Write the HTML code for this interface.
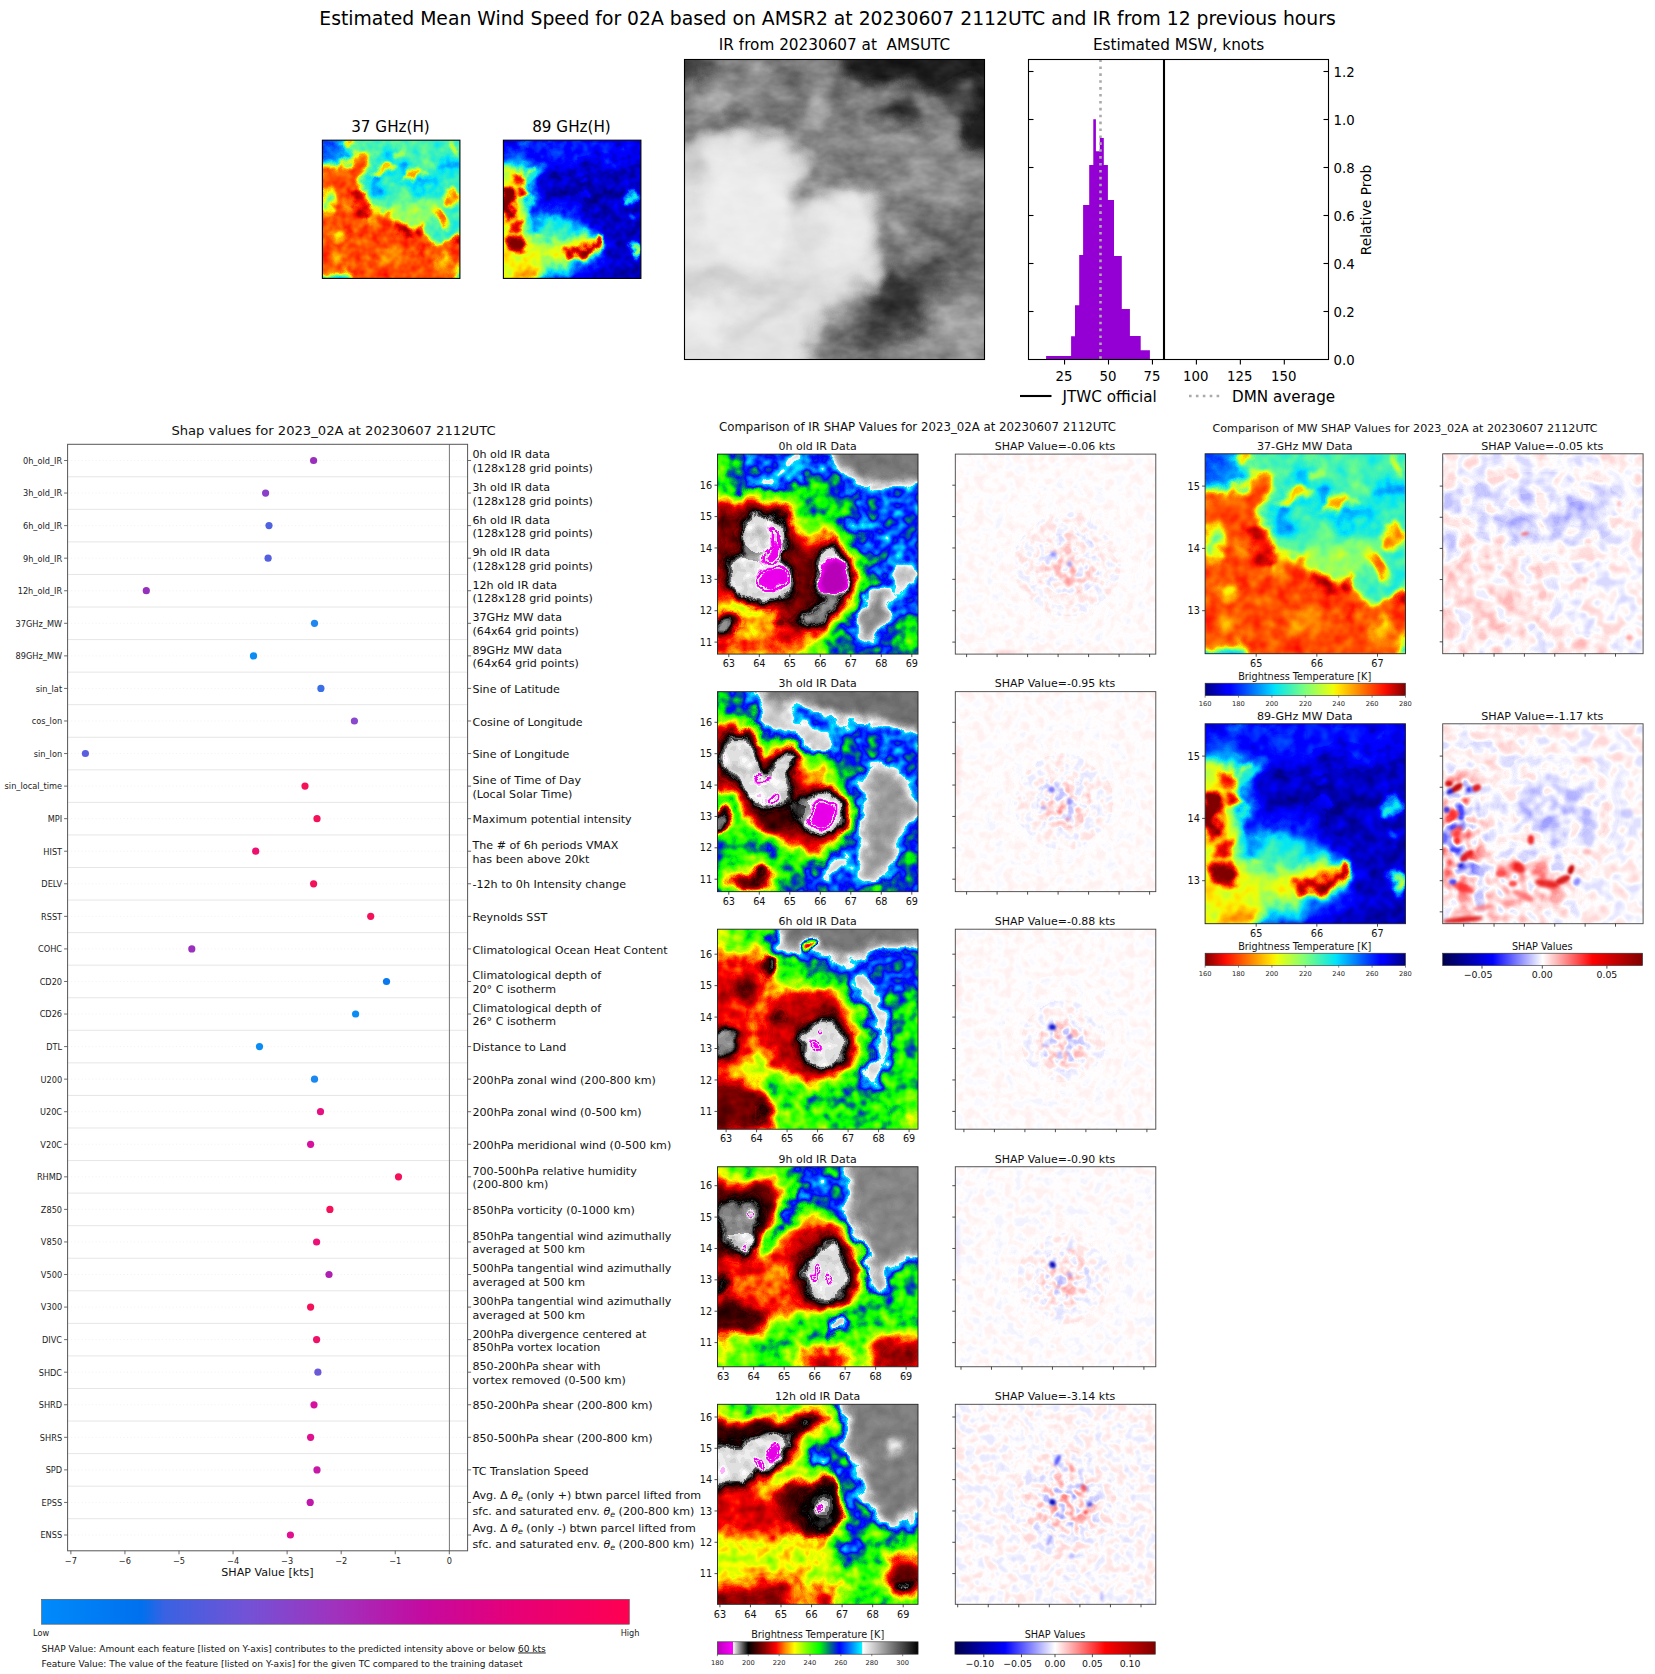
<!DOCTYPE html>
<html><head><meta charset="utf-8"><title>Estimated Mean Wind Speed for 02A</title>
<style>html,body{margin:0;padding:0;background:#fff}svg{display:block}text{font-family:"DejaVu Sans","Liberation Sans",sans-serif}</style></head>
<body><svg width="1655" height="1674" viewBox="0 0 1655 1674">
<defs>
<linearGradient id="gIR" x1="0" y1="0" x2="1" y2="0"><stop offset="0.0000" stop-color="rgb(185,0,185)"/><stop offset="0.0762" stop-color="rgb(255,0,255)"/><stop offset="0.0769" stop-color="rgb(255,255,255)"/><stop offset="0.1538" stop-color="rgb(0,0,0)"/><stop offset="0.2308" stop-color="rgb(130,0,0)"/><stop offset="0.2923" stop-color="rgb(255,0,0)"/><stop offset="0.3385" stop-color="rgb(255,140,0)"/><stop offset="0.3846" stop-color="rgb(255,255,0)"/><stop offset="0.4462" stop-color="rgb(120,255,0)"/><stop offset="0.5077" stop-color="rgb(0,255,0)"/><stop offset="0.5615" stop-color="rgb(0,110,130)"/><stop offset="0.6077" stop-color="rgb(0,0,255)"/><stop offset="0.6615" stop-color="rgb(0,120,255)"/><stop offset="0.7223" stop-color="rgb(0,255,255)"/><stop offset="0.7231" stop-color="rgb(255,255,255)"/><stop offset="1.0000" stop-color="rgb(0,0,0)"/></linearGradient>
<linearGradient id="gJET" x1="0" y1="0" x2="1" y2="0"><stop offset="0.0000" stop-color="rgb(0,0,128)"/><stop offset="0.1100" stop-color="rgb(0,0,255)"/><stop offset="0.1250" stop-color="rgb(0,0,255)"/><stop offset="0.3400" stop-color="rgb(0,219,255)"/><stop offset="0.3500" stop-color="rgb(0,229,246)"/><stop offset="0.5000" stop-color="rgb(125,255,122)"/><stop offset="0.6400" stop-color="rgb(238,255,8)"/><stop offset="0.6600" stop-color="rgb(255,236,0)"/><stop offset="0.8900" stop-color="rgb(255,18,0)"/><stop offset="0.9100" stop-color="rgb(241,8,0)"/><stop offset="1.0000" stop-color="rgb(128,0,0)"/></linearGradient>
<linearGradient id="gJETR" x1="0" y1="0" x2="1" y2="0"><stop offset="0.0000" stop-color="rgb(128,0,0)"/><stop offset="0.0900" stop-color="rgb(241,8,0)"/><stop offset="0.1100" stop-color="rgb(255,18,0)"/><stop offset="0.3400" stop-color="rgb(255,236,0)"/><stop offset="0.3600" stop-color="rgb(238,255,8)"/><stop offset="0.5000" stop-color="rgb(125,255,122)"/><stop offset="0.6500" stop-color="rgb(0,229,246)"/><stop offset="0.6600" stop-color="rgb(0,219,255)"/><stop offset="0.8750" stop-color="rgb(0,0,255)"/><stop offset="0.8900" stop-color="rgb(0,0,255)"/><stop offset="1.0000" stop-color="rgb(0,0,128)"/></linearGradient>
<linearGradient id="gSEIS" x1="0" y1="0" x2="1" y2="0"><stop offset="0.0000" stop-color="rgb(0,0,76)"/><stop offset="0.2500" stop-color="rgb(0,0,255)"/><stop offset="0.5000" stop-color="rgb(255,255,255)"/><stop offset="0.7500" stop-color="rgb(255,0,0)"/><stop offset="1.0000" stop-color="rgb(128,0,0)"/></linearGradient>
<linearGradient id="gSHAP" x1="0" y1="0" x2="1" y2="0"><stop offset="0.0000" stop-color="rgb(0,139,251)"/><stop offset="0.1700" stop-color="rgb(0,112,238)"/><stop offset="0.2100" stop-color="rgb(58,98,226)"/><stop offset="0.3500" stop-color="rgb(115,82,214)"/><stop offset="0.5000" stop-color="rgb(160,50,190)"/><stop offset="0.6500" stop-color="rgb(196,10,160)"/><stop offset="0.8000" stop-color="rgb(230,0,120)"/><stop offset="1.0000" stop-color="rgb(255,0,81)"/></linearGradient>
<filter id="fGR" filterUnits="userSpaceOnUse" x="-15" y="-15" width="130" height="130" color-interpolation-filters="sRGB">
<feTurbulence type="fractalNoise" baseFrequency="0.06" numOctaves="3" seed="4" result="t"/>
<feDisplacementMap in="SourceGraphic" in2="t" scale="12" xChannelSelector="R" yChannelSelector="G" result="d"/>
<feTurbulence type="fractalNoise" baseFrequency="0.12 0.2" numOctaves="3" seed="9" result="t2"/>
<feColorMatrix in="t2" type="matrix" values="0 0 1 0 0 0 0 1 0 0 0 0 1 0 0 0 0 0 0 1" result="n"/>
<feComponentTransfer in="d" result="e"><feFuncR type="table" tableValues="0.1 0.22 0.3 0.28 0.08 0.02"/><feFuncG type="table" tableValues="0.1 0.22 0.3 0.28 0.08 0.02"/><feFuncB type="table" tableValues="0.1 0.22 0.3 0.28 0.08 0.02"/></feComponentTransfer>
<feComposite in="e" in2="n" operator="arithmetic" k1="1" k2="0" k3="0" k4="0" result="p"/>
<feComposite in="d" in2="e" operator="arithmetic" k1="0" k2="1" k3="-0.5" k4="0" result="q"/>
<feComposite in="q" in2="p" operator="arithmetic" k1="0" k2="1" k3="1" k4="0" result="c"/>
<feComponentTransfer in="c"><feFuncA type="linear" slope="0" intercept="1"/></feComponentTransfer>
</filter>
<filter id="pb0.5" filterUnits="userSpaceOnUse" x="-40" y="-40" width="180" height="180"><feGaussianBlur stdDeviation="0.5"/></filter>
<filter id="pb0.6" filterUnits="userSpaceOnUse" x="-40" y="-40" width="180" height="180"><feGaussianBlur stdDeviation="0.6"/></filter>
<filter id="pb0.7" filterUnits="userSpaceOnUse" x="-40" y="-40" width="180" height="180"><feGaussianBlur stdDeviation="0.7"/></filter>
<filter id="pb0.8" filterUnits="userSpaceOnUse" x="-40" y="-40" width="180" height="180"><feGaussianBlur stdDeviation="0.8"/></filter>
<filter id="pb1" filterUnits="userSpaceOnUse" x="-40" y="-40" width="180" height="180"><feGaussianBlur stdDeviation="1"/></filter>
<filter id="pb1.5" filterUnits="userSpaceOnUse" x="-40" y="-40" width="180" height="180"><feGaussianBlur stdDeviation="1.5"/></filter>
<filter id="pb2" filterUnits="userSpaceOnUse" x="-40" y="-40" width="180" height="180"><feGaussianBlur stdDeviation="2"/></filter>
<filter id="pb2.5" filterUnits="userSpaceOnUse" x="-40" y="-40" width="180" height="180"><feGaussianBlur stdDeviation="2.5"/></filter>
<filter id="pb3" filterUnits="userSpaceOnUse" x="-40" y="-40" width="180" height="180"><feGaussianBlur stdDeviation="3"/></filter>
<filter id="pb3.5" filterUnits="userSpaceOnUse" x="-40" y="-40" width="180" height="180"><feGaussianBlur stdDeviation="3.5"/></filter>
<filter id="pb4" filterUnits="userSpaceOnUse" x="-40" y="-40" width="180" height="180"><feGaussianBlur stdDeviation="4"/></filter>
<filter id="pb6" filterUnits="userSpaceOnUse" x="-40" y="-40" width="180" height="180"><feGaussianBlur stdDeviation="6"/></filter>
<filter id="pb7" filterUnits="userSpaceOnUse" x="-40" y="-40" width="180" height="180"><feGaussianBlur stdDeviation="7"/></filter>
<filter id="pb8" filterUnits="userSpaceOnUse" x="-40" y="-40" width="180" height="180"><feGaussianBlur stdDeviation="8"/></filter>
<filter id="pb9" filterUnits="userSpaceOnUse" x="-40" y="-40" width="180" height="180"><feGaussianBlur stdDeviation="9"/></filter>
<filter id="fIR" filterUnits="userSpaceOnUse" x="-15" y="-15" width="130" height="130" color-interpolation-filters="sRGB">
<feTurbulence type="fractalNoise" baseFrequency="0.07" numOctaves="3" seed="3" result="t"/>
<feDisplacementMap in="SourceGraphic" in2="t" scale="10" xChannelSelector="R" yChannelSelector="G" result="d"/>
<feTurbulence type="fractalNoise" baseFrequency="0.16" numOctaves="2" seed="8" result="t2"/>
<feColorMatrix in="t2" type="matrix" values="0 0 1 0 0 0 0 1 0 0 0 0 1 0 0 0 0 0 0 1" result="n"/>
<feComponentTransfer in="d" result="e"><feFuncR type="table" tableValues="0 0.03 0.05 0.09 0.13 0.17 0.24 0.3 0.3 0.26 0.07 0.04 0.04 0.04"/><feFuncG type="table" tableValues="0 0.03 0.05 0.09 0.13 0.17 0.24 0.3 0.3 0.26 0.07 0.04 0.04 0.04"/><feFuncB type="table" tableValues="0 0.03 0.05 0.09 0.13 0.17 0.24 0.3 0.3 0.26 0.07 0.04 0.04 0.04"/></feComponentTransfer>
<feComposite in="e" in2="n" operator="arithmetic" k1="1" k2="0" k3="0" k4="0" result="p"/>
<feComposite in="d" in2="e" operator="arithmetic" k1="0" k2="1" k3="-0.5" k4="0" result="q"/>
<feComposite in="q" in2="p" operator="arithmetic" k1="0" k2="1" k3="1" k4="0" result="c"/>
<feComponentTransfer in="c"><feFuncR type="table" tableValues="0.725 0.753 0.781 0.809 0.836 0.864 0.892 0.92 0.947 0.975 1 0.9 0.8 0.7 0.6 0.5 0.4 0.3 0.2 0.1 0 0.051 0.102 0.153 0.204 0.255 0.306 0.357 0.408 0.459 0.51 0.571 0.632 0.694 0.755 0.816 0.877 0.939 1 1 1 1 1 1 1 1 1 1 1 1 1 0.934 0.868 0.801 0.735 0.669 0.603 0.537 0.471 0.412 0.353 0.294 0.235 0.176 0.118 0.059 0 0 0 0 0 0 0 0 0 0 0 0 0 0 0 0 0 0 0 0 0 0 0 0 0 0 0 0 1 0.972 0.944 0.917 0.889 0.861 0.833 0.806 0.778 0.75 0.722 0.694 0.667 0.639 0.611 0.583 0.556 0.528 0.5 0.472 0.444 0.417 0.389 0.361 0.333 0.306 0.278 0.25 0.222 0.194 0.167 0.139 0.111 0.083 0.056 0.028 0"/><feFuncG type="table" tableValues="0 0 0 0 0 0 0 0 0 0 1 0.9 0.8 0.7 0.6 0.5 0.4 0.3 0.2 0.1 0 0 0 0 0 0 0 0 0 0 0 0 0 0 0 0 0 0 0 0.092 0.183 0.275 0.366 0.458 0.549 0.624 0.699 0.775 0.85 0.925 1 1 1 1 1 1 1 1 1 1 1 1 1 1 1 1 1 0.919 0.838 0.756 0.675 0.594 0.513 0.431 0.359 0.288 0.216 0.144 0.072 0 0.067 0.134 0.202 0.269 0.336 0.403 0.471 0.538 0.605 0.672 0.739 0.806 0.873 0.94 1 0.972 0.944 0.917 0.889 0.861 0.833 0.806 0.778 0.75 0.722 0.694 0.667 0.639 0.611 0.583 0.556 0.528 0.5 0.472 0.444 0.417 0.389 0.361 0.333 0.306 0.278 0.25 0.222 0.194 0.167 0.139 0.111 0.083 0.056 0.028 0"/><feFuncB type="table" tableValues="0.725 0.753 0.781 0.809 0.836 0.864 0.892 0.92 0.947 0.975 1 0.9 0.8 0.7 0.6 0.5 0.4 0.3 0.2 0.1 0 0 0 0 0 0 0 0 0 0 0 0 0 0 0 0 0 0 0 0 0 0 0 0 0 0 0 0 0 0 0 0 0 0 0 0 0 0 0 0 0 0 0 0 0 0 0 0.073 0.146 0.218 0.291 0.364 0.437 0.51 0.592 0.673 0.755 0.837 0.918 1 1 1 1 1 1 1 1 1 1 1 1 1 1 1 1 0.972 0.944 0.917 0.889 0.861 0.833 0.806 0.778 0.75 0.722 0.694 0.667 0.639 0.611 0.583 0.556 0.528 0.5 0.472 0.444 0.417 0.389 0.361 0.333 0.306 0.278 0.25 0.222 0.194 0.167 0.139 0.111 0.083 0.056 0.028 0"/><feFuncA type="linear" slope="0" intercept="1"/></feComponentTransfer>
</filter>
<filter id="fSH0" filterUnits="userSpaceOnUse" x="-10" y="-10" width="120" height="120" color-interpolation-filters="sRGB">
<feTurbulence type="fractalNoise" baseFrequency="0.2" numOctaves="2" seed="21" result="t"/>
<feColorMatrix in="t" type="matrix" values="2.2 0 0 0 -0.6 2.2 0 0 0 -0.6 2.2 0 0 0 -0.6 0 0 0 0 1" result="n"/>
<feColorMatrix in="SourceGraphic" type="matrix" values="1 0 0 0 0 1 0 0 0 0 1 0 0 0 0 0 0 0 0 1" result="a"/>
<feColorMatrix in="SourceGraphic" type="matrix" values="0 1 0 0 0 0 1 0 0 0 0 1 0 0 0 0 0 0 0 1" result="bb"/>
<feComposite in="a" in2="n" operator="arithmetic" k1="1" k2="0" k3="0" k4="0" result="p"/>
<feComposite in="bb" in2="a" operator="arithmetic" k1="0" k2="1" k3="-0.5" k4="0" result="q"/>
<feComposite in="q" in2="p" operator="arithmetic" k1="0" k2="1" k3="1" k4="0" result="c"/>
<feComponentTransfer in="c"><feFuncR type="table" tableValues="0 0 0 0 0 0 0 0 0 0.125 0.25 0.375 0.5 0.625 0.75 0.875 1 1 1 1 1 1 1 1 1 0.938 0.875 0.813 0.751 0.689 0.626 0.564 0.502"/><feFuncG type="table" tableValues="0 0 0 0 0 0 0 0 0 0.125 0.25 0.375 0.5 0.625 0.75 0.875 1 0.875 0.75 0.625 0.5 0.375 0.25 0.125 0 0 0 0 0 0 0 0 0"/><feFuncB type="table" tableValues="0.298 0.386 0.474 0.561 0.649 0.737 0.825 0.912 1 1 1 1 1 1 1 1 1 0.875 0.75 0.625 0.5 0.375 0.25 0.125 0 0 0 0 0 0 0 0 0"/><feFuncA type="linear" slope="0" intercept="1"/></feComponentTransfer>
</filter>
<filter id="fSH1" filterUnits="userSpaceOnUse" x="-10" y="-10" width="120" height="120" color-interpolation-filters="sRGB">
<feTurbulence type="fractalNoise" baseFrequency="0.2" numOctaves="2" seed="22" result="t"/>
<feColorMatrix in="t" type="matrix" values="2.2 0 0 0 -0.6 2.2 0 0 0 -0.6 2.2 0 0 0 -0.6 0 0 0 0 1" result="n"/>
<feColorMatrix in="SourceGraphic" type="matrix" values="1 0 0 0 0 1 0 0 0 0 1 0 0 0 0 0 0 0 0 1" result="a"/>
<feColorMatrix in="SourceGraphic" type="matrix" values="0 1 0 0 0 0 1 0 0 0 0 1 0 0 0 0 0 0 0 1" result="bb"/>
<feComposite in="a" in2="n" operator="arithmetic" k1="1" k2="0" k3="0" k4="0" result="p"/>
<feComposite in="bb" in2="a" operator="arithmetic" k1="0" k2="1" k3="-0.5" k4="0" result="q"/>
<feComposite in="q" in2="p" operator="arithmetic" k1="0" k2="1" k3="1" k4="0" result="c"/>
<feComponentTransfer in="c"><feFuncR type="table" tableValues="0 0 0 0 0 0 0 0 0 0.125 0.25 0.375 0.5 0.625 0.75 0.875 1 1 1 1 1 1 1 1 1 0.938 0.875 0.813 0.751 0.689 0.626 0.564 0.502"/><feFuncG type="table" tableValues="0 0 0 0 0 0 0 0 0 0.125 0.25 0.375 0.5 0.625 0.75 0.875 1 0.875 0.75 0.625 0.5 0.375 0.25 0.125 0 0 0 0 0 0 0 0 0"/><feFuncB type="table" tableValues="0.298 0.386 0.474 0.561 0.649 0.737 0.825 0.912 1 1 1 1 1 1 1 1 1 0.875 0.75 0.625 0.5 0.375 0.25 0.125 0 0 0 0 0 0 0 0 0"/><feFuncA type="linear" slope="0" intercept="1"/></feComponentTransfer>
</filter>
<filter id="fSH2" filterUnits="userSpaceOnUse" x="-10" y="-10" width="120" height="120" color-interpolation-filters="sRGB">
<feTurbulence type="fractalNoise" baseFrequency="0.2" numOctaves="2" seed="23" result="t"/>
<feColorMatrix in="t" type="matrix" values="2.2 0 0 0 -0.6 2.2 0 0 0 -0.6 2.2 0 0 0 -0.6 0 0 0 0 1" result="n"/>
<feColorMatrix in="SourceGraphic" type="matrix" values="1 0 0 0 0 1 0 0 0 0 1 0 0 0 0 0 0 0 0 1" result="a"/>
<feColorMatrix in="SourceGraphic" type="matrix" values="0 1 0 0 0 0 1 0 0 0 0 1 0 0 0 0 0 0 0 1" result="bb"/>
<feComposite in="a" in2="n" operator="arithmetic" k1="1" k2="0" k3="0" k4="0" result="p"/>
<feComposite in="bb" in2="a" operator="arithmetic" k1="0" k2="1" k3="-0.5" k4="0" result="q"/>
<feComposite in="q" in2="p" operator="arithmetic" k1="0" k2="1" k3="1" k4="0" result="c"/>
<feComponentTransfer in="c"><feFuncR type="table" tableValues="0 0 0 0 0 0 0 0 0 0.125 0.25 0.375 0.5 0.625 0.75 0.875 1 1 1 1 1 1 1 1 1 0.938 0.875 0.813 0.751 0.689 0.626 0.564 0.502"/><feFuncG type="table" tableValues="0 0 0 0 0 0 0 0 0 0.125 0.25 0.375 0.5 0.625 0.75 0.875 1 0.875 0.75 0.625 0.5 0.375 0.25 0.125 0 0 0 0 0 0 0 0 0"/><feFuncB type="table" tableValues="0.298 0.386 0.474 0.561 0.649 0.737 0.825 0.912 1 1 1 1 1 1 1 1 1 0.875 0.75 0.625 0.5 0.375 0.25 0.125 0 0 0 0 0 0 0 0 0"/><feFuncA type="linear" slope="0" intercept="1"/></feComponentTransfer>
</filter>
<filter id="fSH3" filterUnits="userSpaceOnUse" x="-10" y="-10" width="120" height="120" color-interpolation-filters="sRGB">
<feTurbulence type="fractalNoise" baseFrequency="0.2" numOctaves="2" seed="24" result="t"/>
<feColorMatrix in="t" type="matrix" values="2.2 0 0 0 -0.6 2.2 0 0 0 -0.6 2.2 0 0 0 -0.6 0 0 0 0 1" result="n"/>
<feColorMatrix in="SourceGraphic" type="matrix" values="1 0 0 0 0 1 0 0 0 0 1 0 0 0 0 0 0 0 0 1" result="a"/>
<feColorMatrix in="SourceGraphic" type="matrix" values="0 1 0 0 0 0 1 0 0 0 0 1 0 0 0 0 0 0 0 1" result="bb"/>
<feComposite in="a" in2="n" operator="arithmetic" k1="1" k2="0" k3="0" k4="0" result="p"/>
<feComposite in="bb" in2="a" operator="arithmetic" k1="0" k2="1" k3="-0.5" k4="0" result="q"/>
<feComposite in="q" in2="p" operator="arithmetic" k1="0" k2="1" k3="1" k4="0" result="c"/>
<feComponentTransfer in="c"><feFuncR type="table" tableValues="0 0 0 0 0 0 0 0 0 0.125 0.25 0.375 0.5 0.625 0.75 0.875 1 1 1 1 1 1 1 1 1 0.938 0.875 0.813 0.751 0.689 0.626 0.564 0.502"/><feFuncG type="table" tableValues="0 0 0 0 0 0 0 0 0 0.125 0.25 0.375 0.5 0.625 0.75 0.875 1 0.875 0.75 0.625 0.5 0.375 0.25 0.125 0 0 0 0 0 0 0 0 0"/><feFuncB type="table" tableValues="0.298 0.386 0.474 0.561 0.649 0.737 0.825 0.912 1 1 1 1 1 1 1 1 1 0.875 0.75 0.625 0.5 0.375 0.25 0.125 0 0 0 0 0 0 0 0 0"/><feFuncA type="linear" slope="0" intercept="1"/></feComponentTransfer>
</filter>
<filter id="fSH4" filterUnits="userSpaceOnUse" x="-10" y="-10" width="120" height="120" color-interpolation-filters="sRGB">
<feTurbulence type="fractalNoise" baseFrequency="0.2" numOctaves="2" seed="25" result="t"/>
<feColorMatrix in="t" type="matrix" values="2.2 0 0 0 -0.6 2.2 0 0 0 -0.6 2.2 0 0 0 -0.6 0 0 0 0 1" result="n"/>
<feColorMatrix in="SourceGraphic" type="matrix" values="1 0 0 0 0 1 0 0 0 0 1 0 0 0 0 0 0 0 0 1" result="a"/>
<feColorMatrix in="SourceGraphic" type="matrix" values="0 1 0 0 0 0 1 0 0 0 0 1 0 0 0 0 0 0 0 1" result="bb"/>
<feComposite in="a" in2="n" operator="arithmetic" k1="1" k2="0" k3="0" k4="0" result="p"/>
<feComposite in="bb" in2="a" operator="arithmetic" k1="0" k2="1" k3="-0.5" k4="0" result="q"/>
<feComposite in="q" in2="p" operator="arithmetic" k1="0" k2="1" k3="1" k4="0" result="c"/>
<feComponentTransfer in="c"><feFuncR type="table" tableValues="0 0 0 0 0 0 0 0 0 0.125 0.25 0.375 0.5 0.625 0.75 0.875 1 1 1 1 1 1 1 1 1 0.938 0.875 0.813 0.751 0.689 0.626 0.564 0.502"/><feFuncG type="table" tableValues="0 0 0 0 0 0 0 0 0 0.125 0.25 0.375 0.5 0.625 0.75 0.875 1 0.875 0.75 0.625 0.5 0.375 0.25 0.125 0 0 0 0 0 0 0 0 0"/><feFuncB type="table" tableValues="0.298 0.386 0.474 0.561 0.649 0.737 0.825 0.912 1 1 1 1 1 1 1 1 1 0.875 0.75 0.625 0.5 0.375 0.25 0.125 0 0 0 0 0 0 0 0 0"/><feFuncA type="linear" slope="0" intercept="1"/></feComponentTransfer>
</filter>
<filter id="fJET" filterUnits="userSpaceOnUse" x="-15" y="-15" width="130" height="130" color-interpolation-filters="sRGB">
<feTurbulence type="fractalNoise" baseFrequency="0.08" numOctaves="3" seed="5" result="t"/>
<feDisplacementMap in="SourceGraphic" in2="t" scale="12" xChannelSelector="R" yChannelSelector="G" result="d"/>
<feTurbulence type="fractalNoise" baseFrequency="0.14" numOctaves="2" seed="11" result="t2"/>
<feColorMatrix in="t2" type="matrix" values="0 0 1 0 0 0 0 1 0 0 0 0 1 0 0 0 0 0 0 1" result="n"/>
<feComposite in="d" in2="n" operator="arithmetic" k1="0" k2="1" k3="0.18" k4="-0.09" result="c"/>
<feComponentTransfer in="c"><feFuncR type="table" tableValues="0 0 0 0 0 0 0 0 0 0 0 0 0 0 0 0 0 0 0 0 0 0 0 0.049 0.101 0.153 0.205 0.257 0.309 0.361 0.412 0.464 0.515 0.566 0.616 0.666 0.716 0.767 0.817 0.867 0.917 0.969 1 1 1 1 1 1 1 1 1 1 1 1 1 1 1 0.959 0.893 0.815 0.736 0.658 0.58 0.502"/><feFuncG type="table" tableValues="0 0 0 0 0 0 0 0 0.008 0.071 0.135 0.198 0.262 0.325 0.388 0.452 0.515 0.579 0.642 0.705 0.769 0.832 0.895 0.908 0.919 0.93 0.941 0.951 0.962 0.973 0.984 0.995 1 1 1 1 1 1 1 1 1 0.96 0.901 0.842 0.783 0.724 0.665 0.606 0.547 0.488 0.429 0.37 0.311 0.252 0.193 0.134 0.075 0.042 0.028 0.022 0.017 0.011 0.006 0"/><feFuncB type="table" tableValues="0.502 0.574 0.646 0.718 0.789 0.861 0.933 1 1 1 1 1 1 1 1 1 1 1 1 1 1 1 0.968 0.916 0.864 0.813 0.761 0.71 0.659 0.607 0.556 0.504 0.453 0.402 0.352 0.301 0.25 0.2 0.149 0.098 0.048 0.014 0 0 0 0 0 0 0 0 0 0 0 0 0 0 0 0 0 0 0 0 0 0"/><feFuncA type="linear" slope="0" intercept="1"/></feComponentTransfer>
</filter>
<g id="mw37"><rect x="-30" y="-30" width="160" height="160" fill="rgb(105,105,105)"/><g filter="url(#pb6)"><ellipse cx="2" cy="4" rx="16" ry="14" fill="rgb(46,46,46)"/><ellipse cx="75" cy="10" rx="14" ry="6" fill="rgb(117,117,117)"/><ellipse cx="3" cy="96" rx="7" ry="6" fill="rgb(71,71,71)"/><ellipse cx="100" cy="99" rx="4" ry="4" fill="rgb(84,84,84)"/><ellipse cx="68" cy="53" rx="22" ry="7" transform="rotate(-5 68 53)" fill="rgb(153,153,153)"/><ellipse cx="62" cy="47" rx="10" ry="5" fill="rgb(133,133,133)"/><ellipse cx="50" cy="5" rx="8" ry="5" fill="rgb(128,128,128)"/></g><g filter="url(#pb3)"><path d="M36 38 L42 28 L47 16 L52 8" fill="none" stroke="rgb(69,69,69)" stroke-width="5" stroke-linecap="round" stroke-linejoin="round"/><ellipse cx="57" cy="21" rx="5" ry="3" transform="rotate(-30 57 21)" fill="rgb(56,56,56)"/><ellipse cx="72" cy="31" rx="11" ry="3.5" transform="rotate(5 72 31)" fill="rgb(61,61,61)"/><ellipse cx="93" cy="19" rx="9" ry="4" transform="rotate(10 93 19)" fill="rgb(61,61,61)"/><ellipse cx="40" cy="33" rx="3" ry="5" transform="rotate(-20 40 33)" fill="rgb(56,56,56)"/><ellipse cx="84" cy="30" rx="5" ry="2" fill="rgb(76,76,76)"/><ellipse cx="12" cy="12" rx="8" ry="5" transform="rotate(30 12 12)" fill="rgb(56,56,56)"/><ellipse cx="33" cy="5" rx="4" ry="3" fill="rgb(115,115,115)"/></g><g filter="url(#pb2.5)"><path d="M-10 22 L6 21 L16 16 L27 9 L34 10 L30 22 L29 36 L33 46 L40 50 L50 51 L54 60 L64 61 L72 60 L77 70 L84 77 L95 70 L110 62 L110 110 L8 104 L-10 90 Z" fill="rgb(212,212,212)"/><ellipse cx="4" cy="44" rx="5" ry="10" fill="rgb(133,133,133)"/><ellipse cx="4" cy="45" rx="2.2" ry="2.2" fill="rgb(71,71,71)"/><ellipse cx="12" cy="70" rx="4" ry="5" fill="rgb(158,158,158)"/><ellipse cx="19" cy="48" rx="3" ry="3" fill="rgb(168,168,168)"/><ellipse cx="35" cy="56" rx="2.5" ry="5" transform="rotate(20 35 56)" fill="rgb(153,153,153)"/><ellipse cx="50" cy="83" rx="14" ry="5" fill="rgb(194,194,194)"/><ellipse cx="88" cy="88" rx="3" ry="6" fill="rgb(158,158,158)"/><ellipse cx="10" cy="86" rx="5" ry="3" fill="rgb(178,178,178)"/><ellipse cx="6" cy="101" rx="16" ry="5" transform="rotate(-12 6 101)" fill="rgb(76,76,76)"/><ellipse cx="100" cy="97" rx="4" ry="6" fill="rgb(84,84,84)"/></g><g filter="url(#pb1.5)"><ellipse cx="43" cy="22" rx="8" ry="2" transform="rotate(-30 43 22)" fill="rgb(201,201,201)"/><ellipse cx="66" cy="25" rx="9" ry="2.5" transform="rotate(-12 66 25)" fill="rgb(199,199,199)"/><ellipse cx="21" cy="3" rx="3.5" ry="3" fill="rgb(189,189,189)"/><ellipse cx="94" cy="43" rx="4" ry="6" transform="rotate(10 94 43)" fill="rgb(194,194,194)"/><ellipse cx="85" cy="56" rx="3.5" ry="8" transform="rotate(-35 85 56)" fill="rgb(204,204,204)"/><ellipse cx="97" cy="6" rx="2" ry="4" fill="rgb(184,184,184)"/><ellipse cx="56" cy="8" rx="3" ry="1.2" transform="rotate(-30 56 8)" fill="rgb(178,178,178)"/><ellipse cx="25" cy="42" rx="4" ry="8" transform="rotate(-20 25 42)" fill="rgb(237,237,237)"/><ellipse cx="30" cy="52" rx="4" ry="5" fill="rgb(240,240,240)"/><ellipse cx="58" cy="66" rx="7" ry="3" transform="rotate(15 58 66)" fill="rgb(245,245,245)"/><ellipse cx="70" cy="66" rx="3" ry="4" fill="rgb(242,242,242)"/><ellipse cx="100" cy="72" rx="3" ry="6" fill="rgb(240,240,240)"/><ellipse cx="72" cy="80" rx="3" ry="5" fill="rgb(232,232,232)"/><ellipse cx="20" cy="66" rx="3" ry="3" fill="rgb(227,227,227)"/></g></g><g id="mw89"><rect x="-30" y="-30" width="160" height="160" fill="rgb(15,15,15)"/><g filter="url(#pb6)"><ellipse cx="50" cy="5" rx="60" ry="12" fill="rgb(33,33,33)"/><ellipse cx="40" cy="12" rx="5" ry="6" fill="rgb(64,64,64)"/><ellipse cx="12" cy="12" rx="10" ry="6" transform="rotate(20 12 12)" fill="rgb(43,43,43)"/><ellipse cx="60" cy="40" rx="12" ry="5" fill="rgb(8,8,8)"/><path d="M-10 18 L14 18 L23 24 L19 44 L25 60 L33 54 L44 50 L52 60 L68 68 L72 84 L52 96 L-10 104 Z" fill="rgb(102,102,102)"/></g><g filter="url(#pb3)"><path d="M-10 22 L12 22 L19 28 L15 46 L14 60 L18 70 L30 76 L40 72 L62 70 L70 72 L66 84 L44 87 L30 90 L24 104 L-10 104 Z" fill="rgb(163,163,163)"/><ellipse cx="17" cy="97" rx="9" ry="4" transform="rotate(-10 17 97)" fill="rgb(194,194,194)"/><ellipse cx="36" cy="60" rx="5" ry="8" fill="rgb(107,107,107)"/><ellipse cx="24" cy="50" rx="4" ry="9" transform="rotate(-10 24 50)" fill="rgb(36,36,36)"/><ellipse cx="22" cy="64" rx="3" ry="4" fill="rgb(56,56,56)"/><ellipse cx="30" cy="84" rx="4" ry="5" fill="rgb(128,128,128)"/><ellipse cx="22" cy="24" rx="5" ry="4" fill="rgb(115,115,115)"/></g><g filter="url(#pb1.5)"><ellipse cx="3" cy="45" rx="5" ry="12.5" fill="rgb(255,255,255)"/><ellipse cx="12" cy="28" rx="6" ry="3" transform="rotate(10 12 28)" fill="rgb(235,235,235)"/><ellipse cx="14" cy="38" rx="4.5" ry="3.5" transform="rotate(-30 14 38)" fill="rgb(247,247,247)"/><ellipse cx="9" cy="63" rx="4.5" ry="4.5" fill="rgb(240,240,240)"/><ellipse cx="10" cy="76" rx="6.5" ry="6" fill="rgb(255,255,255)"/><path d="M45 80 Q55 85 62 80 Q67 77 67.5 71" fill="none" stroke="rgb(255,255,255)" stroke-width="5" stroke-linecap="round" stroke-linejoin="round"/><ellipse cx="17" cy="20" rx="1.5" ry="2.5" transform="rotate(10 17 20)" fill="rgb(204,204,204)"/><ellipse cx="26" cy="58" rx="1.2" ry="0.8" fill="rgb(191,191,191)"/><ellipse cx="26" cy="70" rx="1.5" ry="2" fill="rgb(184,184,184)"/><ellipse cx="45" cy="69" rx="1.5" ry="1.5" fill="rgb(184,184,184)"/><ellipse cx="32" cy="83" rx="2" ry="1.2" transform="rotate(30 32 83)" fill="rgb(191,191,191)"/><ellipse cx="93" cy="43" rx="4" ry="3.5" fill="rgb(102,102,102)"/><ellipse cx="95" cy="57" rx="2.5" ry="1.5" transform="rotate(30 95 57)" fill="rgb(102,102,102)"/><ellipse cx="96" cy="80" rx="3" ry="7" fill="rgb(128,128,128)"/><ellipse cx="97" cy="80" rx="1.2" ry="1.5" fill="rgb(204,204,204)"/><ellipse cx="58" cy="28" rx="1.5" ry="1.2" transform="rotate(40 58 28)" fill="rgb(102,102,102)"/><ellipse cx="17" cy="4" rx="3" ry="1.5" transform="rotate(30 17 4)" fill="rgb(76,76,76)"/></g></g>
<filter id="fSH5" filterUnits="userSpaceOnUse" x="-10" y="-10" width="120" height="120" color-interpolation-filters="sRGB">
<feTurbulence type="fractalNoise" baseFrequency="0.13" numOctaves="2" seed="26" result="t"/>
<feColorMatrix in="t" type="matrix" values="2.2 0 0 0 -0.6 2.2 0 0 0 -0.6 2.2 0 0 0 -0.6 0 0 0 0 1" result="n"/>
<feColorMatrix in="SourceGraphic" type="matrix" values="1 0 0 0 0 1 0 0 0 0 1 0 0 0 0 0 0 0 0 1" result="a"/>
<feColorMatrix in="SourceGraphic" type="matrix" values="0 1 0 0 0 0 1 0 0 0 0 1 0 0 0 0 0 0 0 1" result="bb"/>
<feComposite in="a" in2="n" operator="arithmetic" k1="1" k2="0" k3="0" k4="0" result="p"/>
<feComposite in="bb" in2="a" operator="arithmetic" k1="0" k2="1" k3="-0.5" k4="0" result="q"/>
<feComposite in="q" in2="p" operator="arithmetic" k1="0" k2="1" k3="1" k4="0" result="c"/>
<feComponentTransfer in="c"><feFuncR type="table" tableValues="0 0 0 0 0 0 0 0 0 0.125 0.25 0.375 0.5 0.625 0.75 0.875 1 1 1 1 1 1 1 1 1 0.938 0.875 0.813 0.751 0.689 0.626 0.564 0.502"/><feFuncG type="table" tableValues="0 0 0 0 0 0 0 0 0 0.125 0.25 0.375 0.5 0.625 0.75 0.875 1 0.875 0.75 0.625 0.5 0.375 0.25 0.125 0 0 0 0 0 0 0 0 0"/><feFuncB type="table" tableValues="0.298 0.386 0.474 0.561 0.649 0.737 0.825 0.912 1 1 1 1 1 1 1 1 1 0.875 0.75 0.625 0.5 0.375 0.25 0.125 0 0 0 0 0 0 0 0 0"/><feFuncA type="linear" slope="0" intercept="1"/></feComponentTransfer>
</filter>
<filter id="fSH6" filterUnits="userSpaceOnUse" x="-10" y="-10" width="120" height="120" color-interpolation-filters="sRGB">
<feTurbulence type="fractalNoise" baseFrequency="0.13" numOctaves="2" seed="27" result="t"/>
<feColorMatrix in="t" type="matrix" values="2.2 0 0 0 -0.6 2.2 0 0 0 -0.6 2.2 0 0 0 -0.6 0 0 0 0 1" result="n"/>
<feColorMatrix in="SourceGraphic" type="matrix" values="1 0 0 0 0 1 0 0 0 0 1 0 0 0 0 0 0 0 0 1" result="a"/>
<feColorMatrix in="SourceGraphic" type="matrix" values="0 1 0 0 0 0 1 0 0 0 0 1 0 0 0 0 0 0 0 1" result="bb"/>
<feComposite in="a" in2="n" operator="arithmetic" k1="1" k2="0" k3="0" k4="0" result="p"/>
<feComposite in="bb" in2="a" operator="arithmetic" k1="0" k2="1" k3="-0.5" k4="0" result="q"/>
<feComposite in="q" in2="p" operator="arithmetic" k1="0" k2="1" k3="1" k4="0" result="c"/>
<feComponentTransfer in="c"><feFuncR type="table" tableValues="0 0 0 0 0 0 0 0 0 0.125 0.25 0.375 0.5 0.625 0.75 0.875 1 1 1 1 1 1 1 1 1 0.938 0.875 0.813 0.751 0.689 0.626 0.564 0.502"/><feFuncG type="table" tableValues="0 0 0 0 0 0 0 0 0 0.125 0.25 0.375 0.5 0.625 0.75 0.875 1 0.875 0.75 0.625 0.5 0.375 0.25 0.125 0 0 0 0 0 0 0 0 0"/><feFuncB type="table" tableValues="0.298 0.386 0.474 0.561 0.649 0.737 0.825 0.912 1 1 1 1 1 1 1 1 1 0.875 0.75 0.625 0.5 0.375 0.25 0.125 0 0 0 0 0 0 0 0 0"/><feFuncA type="linear" slope="0" intercept="1"/></feComponentTransfer>
</filter>
</defs>
<rect width="1655" height="1674" fill="#fff"/>
<text x="827.5" y="25.3" font-size="18.8" text-anchor="middle" fill="#000">Estimated Mean Wind Speed for 02A based on AMSR2 at 20230607 2112UTC and IR from 12 previous hours</text>
<text x="390.5" y="132.0" font-size="15.2" text-anchor="middle" fill="#000">37 GHz(H)</text>
<text x="571.5" y="132.0" font-size="15.2" text-anchor="middle" fill="#000">89 GHz(H)</text>
<text x="834.5" y="49.9" font-size="15.25" text-anchor="middle" fill="#000" xml:space="preserve" style="white-space:pre">IR from 20230607 at  AMSUTC</text>
<text x="1178.5" y="49.9" font-size="15.25" text-anchor="middle" fill="#000">Estimated MSW, knots</text>
<path d="M1046.1 359.5 L1046.1 356.1 L1071.1 356.1 L1071.1 336.3 L1075.0 336.3 L1075.0 305.2 L1079.2 305.2 L1079.2 254.9 L1083.1 254.9 L1083.1 205.1 L1089.2 205.1 L1089.2 165.1 L1093.3 165.1 L1093.3 119.2 L1095.9 119.2 L1095.9 151.2 L1099.8 151.2 L1099.8 138.1 L1103.8 138.1 L1103.8 165.1 L1107.9 165.1 L1107.9 200.1 L1114.0 200.1 L1114.0 256.0 L1121.8 256.0 L1121.8 308.9 L1129.9 308.9 L1129.9 336.1 L1140.7 336.1 L1140.7 350.2 L1149.9 350.2 L1149.9 359.5 Z" fill="#9400d3"/>
<line x1="1100.50" y1="59.50" x2="1100.50" y2="359.50" stroke="#aaaaaa" stroke-width="2.6" stroke-dasharray="2.6 4.3"/>
<line x1="1164.00" y1="59.50" x2="1164.00" y2="359.50" stroke="#000" stroke-width="2.1"/>
<rect x="1028.50" y="59.50" width="300.00" height="300.00" fill="none" stroke="#000" stroke-width="1.1"/>
<line x1="1064.55" y1="359.50" x2="1064.55" y2="364.50" stroke="#000" stroke-width="1.1"/>
<text x="1064.0" y="380.8" font-size="13.3" text-anchor="middle" fill="#000">25</text>
<line x1="1108.50" y1="359.50" x2="1108.50" y2="364.50" stroke="#000" stroke-width="1.1"/>
<text x="1107.9" y="380.8" font-size="13.3" text-anchor="middle" fill="#000">50</text>
<line x1="1152.45" y1="359.50" x2="1152.45" y2="364.50" stroke="#000" stroke-width="1.1"/>
<text x="1151.9" y="380.8" font-size="13.3" text-anchor="middle" fill="#000">75</text>
<line x1="1196.40" y1="359.50" x2="1196.40" y2="364.50" stroke="#000" stroke-width="1.1"/>
<text x="1195.8" y="380.8" font-size="13.3" text-anchor="middle" fill="#000">100</text>
<line x1="1240.35" y1="359.50" x2="1240.35" y2="364.50" stroke="#000" stroke-width="1.1"/>
<text x="1239.8" y="380.8" font-size="13.3" text-anchor="middle" fill="#000">125</text>
<line x1="1284.30" y1="359.50" x2="1284.30" y2="364.50" stroke="#000" stroke-width="1.1"/>
<text x="1283.7" y="380.8" font-size="13.3" text-anchor="middle" fill="#000">150</text>
<text x="1333.5" y="364.6" font-size="13.3" text-anchor="start" fill="#000">0.0</text>
<line x1="1028.50" y1="311.50" x2="1033.50" y2="311.50" stroke="#000" stroke-width="1.1"/>
<line x1="1323.50" y1="311.50" x2="1328.50" y2="311.50" stroke="#000" stroke-width="1.1"/>
<text x="1333.5" y="316.6" font-size="13.3" text-anchor="start" fill="#000">0.2</text>
<line x1="1028.50" y1="263.50" x2="1033.50" y2="263.50" stroke="#000" stroke-width="1.1"/>
<line x1="1323.50" y1="263.50" x2="1328.50" y2="263.50" stroke="#000" stroke-width="1.1"/>
<text x="1333.5" y="268.6" font-size="13.3" text-anchor="start" fill="#000">0.4</text>
<line x1="1028.50" y1="215.50" x2="1033.50" y2="215.50" stroke="#000" stroke-width="1.1"/>
<line x1="1323.50" y1="215.50" x2="1328.50" y2="215.50" stroke="#000" stroke-width="1.1"/>
<text x="1333.5" y="220.6" font-size="13.3" text-anchor="start" fill="#000">0.6</text>
<line x1="1028.50" y1="167.50" x2="1033.50" y2="167.50" stroke="#000" stroke-width="1.1"/>
<line x1="1323.50" y1="167.50" x2="1328.50" y2="167.50" stroke="#000" stroke-width="1.1"/>
<text x="1333.5" y="172.6" font-size="13.3" text-anchor="start" fill="#000">0.8</text>
<line x1="1028.50" y1="119.50" x2="1033.50" y2="119.50" stroke="#000" stroke-width="1.1"/>
<line x1="1323.50" y1="119.50" x2="1328.50" y2="119.50" stroke="#000" stroke-width="1.1"/>
<text x="1333.5" y="124.6" font-size="13.3" text-anchor="start" fill="#000">1.0</text>
<line x1="1028.50" y1="71.50" x2="1033.50" y2="71.50" stroke="#000" stroke-width="1.1"/>
<line x1="1323.50" y1="71.50" x2="1328.50" y2="71.50" stroke="#000" stroke-width="1.1"/>
<text x="1333.5" y="76.6" font-size="13.3" text-anchor="start" fill="#000">1.2</text>
<text transform="translate(1370.5,210) rotate(-90)" font-size="13.75" text-anchor="middle">Relative Prob</text>
<line x1="1020.00" y1="396.00" x2="1051.50" y2="396.00" stroke="#000" stroke-width="2.1"/>
<text x="1062.5" y="401.5" font-size="15.2" text-anchor="start" fill="#000">JTWC official</text>
<line x1="1189.00" y1="396.00" x2="1220.50" y2="396.00" stroke="#aaaaaa" stroke-width="2.6" stroke-dasharray="2.6 4.3"/>
<text x="1232.0" y="401.5" font-size="15.2" text-anchor="start" fill="#000">DMN average</text>
<svg x="684.5" y="59.5" width="300" height="300" viewBox="0 0 100 100" preserveAspectRatio="none"><g filter="url(#fGR)"><rect x="-30" y="-30" width="160" height="160" fill="rgb(124,124,124)"/><g filter="url(#pb4)"><ellipse cx="76" cy="36" rx="28" ry="11" transform="rotate(5 76 36)" fill="rgb(146,146,146)"/><ellipse cx="58" cy="29" rx="10" ry="6" fill="rgb(138,138,138)"/><ellipse cx="22" cy="10" rx="24" ry="10" transform="rotate(-15 22 10)" fill="rgb(128,128,128)"/><ellipse cx="86" cy="63" rx="14" ry="12" fill="rgb(98,98,98)"/><ellipse cx="60" cy="39" rx="12" ry="3" transform="rotate(15 60 39)" fill="rgb(98,98,98)"/><ellipse cx="92" cy="90" rx="12" ry="12" fill="rgb(160,160,160)"/><ellipse cx="80" cy="98" rx="10" ry="4" fill="rgb(144,144,144)"/><ellipse cx="50" cy="97" rx="8" ry="6" fill="rgb(118,118,118)"/></g><g filter="url(#pb2.5)"><path d="M47 -10 L54 3 L64 9 L80 11 L90 17 L95 27 L110 36 L110 -10 Z" fill="rgb(30,30,30)"/><ellipse cx="72" cy="18.5" rx="9" ry="3.5" transform="rotate(12 72 18.5)" fill="rgb(44,44,44)"/><ellipse cx="64" cy="12" rx="6" ry="1.8" transform="rotate(25 64 12)" fill="rgb(155,155,155)"/><ellipse cx="84" cy="16.5" rx="5" ry="1.8" transform="rotate(20 84 16.5)" fill="rgb(150,150,150)"/><ellipse cx="92" cy="12" rx="4" ry="2" transform="rotate(30 92 12)" fill="rgb(120,120,120)"/><ellipse cx="10" cy="14" rx="6" ry="4" transform="rotate(-30 10 14)" fill="rgb(180,180,180)"/><ellipse cx="44" cy="17" rx="3.2" ry="7" transform="rotate(35 44 17)" fill="rgb(188,188,188)"/><ellipse cx="16" cy="20" rx="7" ry="3" fill="rgb(70,70,70)"/><ellipse cx="3" cy="3" rx="7" ry="5" fill="rgb(50,50,50)"/><ellipse cx="30" cy="4" rx="6" ry="3" fill="rgb(85,85,85)"/><ellipse cx="35" cy="21" rx="5" ry="3" transform="rotate(-30 35 21)" fill="rgb(82,82,82)"/><ellipse cx="24" cy="8" rx="5" ry="3" transform="rotate(-30 24 8)" fill="rgb(168,168,168)"/><ellipse cx="52" cy="12" rx="3" ry="5" transform="rotate(30 52 12)" fill="rgb(90,90,90)"/><ellipse cx="74" cy="56" rx="3" ry="8" transform="rotate(-25 74 56)" fill="rgb(158,158,158)"/><ellipse cx="80" cy="62" rx="2" ry="5" transform="rotate(-20 80 62)" fill="rgb(168,168,168)"/><ellipse cx="70" cy="80" rx="8" ry="12" transform="rotate(-35 70 80)" fill="rgb(54,54,54)"/><ellipse cx="62" cy="92" rx="8" ry="6" fill="rgb(80,80,80)"/><ellipse cx="80" cy="72" rx="5" ry="6" fill="rgb(68,68,68)"/><path d="M-10 28 L5 27 L20 22 L36 25 L39 36 L37 48 L42 46 L50 41 L60 43 L66 54 L65 68 L58 78 L46 86 L42 100 L42 110 L-10 110 Z" fill="rgb(226,226,226)"/><path d="M40 26 L40 50" fill="none" stroke="rgb(100,100,100)" stroke-width="2.5" stroke-linecap="round" stroke-linejoin="round"/><path d="M-5 76 L18 76 L36 74" fill="none" stroke="rgb(176,176,176)" stroke-width="2.5" stroke-linecap="round" stroke-linejoin="round"/><path d="M10 92 L30 84 L46 74" fill="none" stroke="rgb(190,190,190)" stroke-width="2" stroke-linecap="round" stroke-linejoin="round"/><path d="M38 50 L40 63" fill="none" stroke="rgb(198,198,198)" stroke-width="1.5" stroke-linecap="round" stroke-linejoin="round"/><path d="M44 32 L46 46" fill="none" stroke="rgb(165,165,165)" stroke-width="2" stroke-linecap="round" stroke-linejoin="round"/><ellipse cx="20" cy="50" rx="17" ry="19" fill="rgb(236,236,236)"/><ellipse cx="54" cy="58" rx="10" ry="13" fill="rgb(234,234,234)"/><ellipse cx="8" cy="86" rx="9" ry="7" transform="rotate(-20 8 86)" fill="rgb(236,236,236)"/><ellipse cx="2" cy="36" rx="5" ry="9" fill="rgb(200,200,200)"/></g></g></svg>
<rect x="684.50" y="59.50" width="300.00" height="300.00" fill="none" stroke="#000" stroke-width="1.1"/>
<text x="333.5" y="435.2" font-size="13.15" text-anchor="middle" fill="#111">Shap values for 2023_02A at 20230607 2112UTC</text>
<line x1="67.60" y1="476.78" x2="467.60" y2="476.78" stroke="#e6e6e6" stroke-width="1"/>
<line x1="67.60" y1="460.50" x2="467.60" y2="460.50" stroke="#ececec" stroke-width="0.7" stroke-dasharray="1 2.5"/>
<line x1="64.10" y1="460.50" x2="67.60" y2="460.50" stroke="#444" stroke-width="0.8"/>
<line x1="467.60" y1="460.50" x2="471.10" y2="460.50" stroke="#444" stroke-width="0.8"/>
<text x="62.1" y="463.8" font-size="8.2" text-anchor="end" fill="#222">0h_old_IR</text>
<circle cx="313.6" cy="460.5" r="3.6" fill="#9a2fbe"/>
<text x="472.5" y="458.4" font-size="11.1" text-anchor="start" fill="#111">0h old IR data</text>
<text x="472.5" y="471.9" font-size="11.1" text-anchor="start" fill="#111">(128x128 grid points)</text>
<line x1="67.60" y1="509.34" x2="467.60" y2="509.34" stroke="#e6e6e6" stroke-width="1"/>
<line x1="67.60" y1="493.06" x2="467.60" y2="493.06" stroke="#ececec" stroke-width="0.7" stroke-dasharray="1 2.5"/>
<line x1="64.10" y1="493.06" x2="67.60" y2="493.06" stroke="#444" stroke-width="0.8"/>
<line x1="467.60" y1="493.06" x2="471.10" y2="493.06" stroke="#444" stroke-width="0.8"/>
<text x="62.1" y="496.4" font-size="8.2" text-anchor="end" fill="#222">3h_old_IR</text>
<circle cx="265.6" cy="493.1" r="3.6" fill="#8a3fc8"/>
<text x="472.5" y="491.0" font-size="11.1" text-anchor="start" fill="#111">3h old IR data</text>
<text x="472.5" y="504.5" font-size="11.1" text-anchor="start" fill="#111">(128x128 grid points)</text>
<line x1="67.60" y1="541.90" x2="467.60" y2="541.90" stroke="#e6e6e6" stroke-width="1"/>
<line x1="67.60" y1="525.62" x2="467.60" y2="525.62" stroke="#ececec" stroke-width="0.7" stroke-dasharray="1 2.5"/>
<line x1="64.10" y1="525.62" x2="67.60" y2="525.62" stroke="#444" stroke-width="0.8"/>
<line x1="467.60" y1="525.62" x2="471.10" y2="525.62" stroke="#444" stroke-width="0.8"/>
<text x="62.1" y="528.9" font-size="8.2" text-anchor="end" fill="#222">6h_old_IR</text>
<circle cx="269.0" cy="525.6" r="3.6" fill="#4f63e0"/>
<text x="472.5" y="523.5" font-size="11.1" text-anchor="start" fill="#111">6h old IR data</text>
<text x="472.5" y="537.0" font-size="11.1" text-anchor="start" fill="#111">(128x128 grid points)</text>
<line x1="67.60" y1="574.46" x2="467.60" y2="574.46" stroke="#e6e6e6" stroke-width="1"/>
<line x1="67.60" y1="558.18" x2="467.60" y2="558.18" stroke="#ececec" stroke-width="0.7" stroke-dasharray="1 2.5"/>
<line x1="64.10" y1="558.18" x2="67.60" y2="558.18" stroke="#444" stroke-width="0.8"/>
<line x1="467.60" y1="558.18" x2="471.10" y2="558.18" stroke="#444" stroke-width="0.8"/>
<text x="62.1" y="561.5" font-size="8.2" text-anchor="end" fill="#222">9h_old_IR</text>
<circle cx="268.1" cy="558.2" r="3.6" fill="#5560e0"/>
<text x="472.5" y="556.1" font-size="11.1" text-anchor="start" fill="#111">9h old IR data</text>
<text x="472.5" y="569.6" font-size="11.1" text-anchor="start" fill="#111">(128x128 grid points)</text>
<line x1="67.60" y1="607.02" x2="467.60" y2="607.02" stroke="#e6e6e6" stroke-width="1"/>
<line x1="67.60" y1="590.74" x2="467.60" y2="590.74" stroke="#ececec" stroke-width="0.7" stroke-dasharray="1 2.5"/>
<line x1="64.10" y1="590.74" x2="67.60" y2="590.74" stroke="#444" stroke-width="0.8"/>
<line x1="467.60" y1="590.74" x2="471.10" y2="590.74" stroke="#444" stroke-width="0.8"/>
<text x="62.1" y="594.0" font-size="8.2" text-anchor="end" fill="#222">12h_old_IR</text>
<circle cx="146.3" cy="590.7" r="3.6" fill="#9430bc"/>
<text x="472.5" y="588.6" font-size="11.1" text-anchor="start" fill="#111">12h old IR data</text>
<text x="472.5" y="602.1" font-size="11.1" text-anchor="start" fill="#111">(128x128 grid points)</text>
<line x1="67.60" y1="639.58" x2="467.60" y2="639.58" stroke="#e6e6e6" stroke-width="1"/>
<line x1="67.60" y1="623.30" x2="467.60" y2="623.30" stroke="#ececec" stroke-width="0.7" stroke-dasharray="1 2.5"/>
<line x1="64.10" y1="623.30" x2="67.60" y2="623.30" stroke="#444" stroke-width="0.8"/>
<line x1="467.60" y1="623.30" x2="471.10" y2="623.30" stroke="#444" stroke-width="0.8"/>
<text x="62.1" y="626.6" font-size="8.2" text-anchor="end" fill="#222">37GHz_MW</text>
<circle cx="314.5" cy="623.3" r="3.6" fill="#1e88f0"/>
<text x="472.5" y="621.2" font-size="11.1" text-anchor="start" fill="#111">37GHz MW data</text>
<text x="472.5" y="634.7" font-size="11.1" text-anchor="start" fill="#111">(64x64 grid points)</text>
<line x1="67.60" y1="672.14" x2="467.60" y2="672.14" stroke="#e6e6e6" stroke-width="1"/>
<line x1="67.60" y1="655.86" x2="467.60" y2="655.86" stroke="#ececec" stroke-width="0.7" stroke-dasharray="1 2.5"/>
<line x1="64.10" y1="655.86" x2="67.60" y2="655.86" stroke="#444" stroke-width="0.8"/>
<line x1="467.60" y1="655.86" x2="471.10" y2="655.86" stroke="#444" stroke-width="0.8"/>
<text x="62.1" y="659.2" font-size="8.2" text-anchor="end" fill="#222">89GHz_MW</text>
<circle cx="253.5" cy="655.9" r="3.6" fill="#0a8cf5"/>
<text x="472.5" y="653.8" font-size="11.1" text-anchor="start" fill="#111">89GHz MW data</text>
<text x="472.5" y="667.3" font-size="11.1" text-anchor="start" fill="#111">(64x64 grid points)</text>
<line x1="67.60" y1="704.70" x2="467.60" y2="704.70" stroke="#e6e6e6" stroke-width="1"/>
<line x1="67.60" y1="688.42" x2="467.60" y2="688.42" stroke="#ececec" stroke-width="0.7" stroke-dasharray="1 2.5"/>
<line x1="64.10" y1="688.42" x2="67.60" y2="688.42" stroke="#444" stroke-width="0.8"/>
<line x1="467.60" y1="688.42" x2="471.10" y2="688.42" stroke="#444" stroke-width="0.8"/>
<text x="62.1" y="691.7" font-size="8.2" text-anchor="end" fill="#222">sin_lat</text>
<circle cx="320.9" cy="688.4" r="3.6" fill="#3a6fe6"/>
<text x="472.5" y="693.0" font-size="11.1" text-anchor="start" fill="#111">Sine of Latitude</text>
<line x1="67.60" y1="737.27" x2="467.60" y2="737.27" stroke="#e6e6e6" stroke-width="1"/>
<line x1="67.60" y1="720.98" x2="467.60" y2="720.98" stroke="#ececec" stroke-width="0.7" stroke-dasharray="1 2.5"/>
<line x1="64.10" y1="720.98" x2="67.60" y2="720.98" stroke="#444" stroke-width="0.8"/>
<line x1="467.60" y1="720.98" x2="471.10" y2="720.98" stroke="#444" stroke-width="0.8"/>
<text x="62.1" y="724.3" font-size="8.2" text-anchor="end" fill="#222">cos_lon</text>
<circle cx="354.4" cy="721.0" r="3.6" fill="#8a48cc"/>
<text x="472.5" y="725.6" font-size="11.1" text-anchor="start" fill="#111">Cosine of Longitude</text>
<line x1="67.60" y1="769.83" x2="467.60" y2="769.83" stroke="#e6e6e6" stroke-width="1"/>
<line x1="67.60" y1="753.55" x2="467.60" y2="753.55" stroke="#ececec" stroke-width="0.7" stroke-dasharray="1 2.5"/>
<line x1="64.10" y1="753.55" x2="67.60" y2="753.55" stroke="#444" stroke-width="0.8"/>
<line x1="467.60" y1="753.55" x2="471.10" y2="753.55" stroke="#444" stroke-width="0.8"/>
<text x="62.1" y="756.8" font-size="8.2" text-anchor="end" fill="#222">sin_lon</text>
<circle cx="85.4" cy="753.5" r="3.6" fill="#5a5fe0"/>
<text x="472.5" y="758.1" font-size="11.1" text-anchor="start" fill="#111">Sine of Longitude</text>
<line x1="67.60" y1="802.39" x2="467.60" y2="802.39" stroke="#e6e6e6" stroke-width="1"/>
<line x1="67.60" y1="786.11" x2="467.60" y2="786.11" stroke="#ececec" stroke-width="0.7" stroke-dasharray="1 2.5"/>
<line x1="64.10" y1="786.11" x2="67.60" y2="786.11" stroke="#444" stroke-width="0.8"/>
<line x1="467.60" y1="786.11" x2="471.10" y2="786.11" stroke="#444" stroke-width="0.8"/>
<text x="62.1" y="789.4" font-size="8.2" text-anchor="end" fill="#222">sin_local_time</text>
<circle cx="305.0" cy="786.1" r="3.6" fill="#f5105a"/>
<text x="472.5" y="784.0" font-size="11.1" text-anchor="start" fill="#111">Sine of Time of Day</text>
<text x="472.5" y="797.5" font-size="11.1" text-anchor="start" fill="#111">(Local Solar Time)</text>
<line x1="67.60" y1="834.95" x2="467.60" y2="834.95" stroke="#e6e6e6" stroke-width="1"/>
<line x1="67.60" y1="818.67" x2="467.60" y2="818.67" stroke="#ececec" stroke-width="0.7" stroke-dasharray="1 2.5"/>
<line x1="64.10" y1="818.67" x2="67.60" y2="818.67" stroke="#444" stroke-width="0.8"/>
<line x1="467.60" y1="818.67" x2="471.10" y2="818.67" stroke="#444" stroke-width="0.8"/>
<text x="62.1" y="822.0" font-size="8.2" text-anchor="end" fill="#222">MPI</text>
<circle cx="317.0" cy="818.7" r="3.6" fill="#f5105a"/>
<text x="472.5" y="823.3" font-size="11.1" text-anchor="start" fill="#111">Maximum potential intensity</text>
<line x1="67.60" y1="867.51" x2="467.60" y2="867.51" stroke="#e6e6e6" stroke-width="1"/>
<line x1="67.60" y1="851.23" x2="467.60" y2="851.23" stroke="#ececec" stroke-width="0.7" stroke-dasharray="1 2.5"/>
<line x1="64.10" y1="851.23" x2="67.60" y2="851.23" stroke="#444" stroke-width="0.8"/>
<line x1="467.60" y1="851.23" x2="471.10" y2="851.23" stroke="#444" stroke-width="0.8"/>
<text x="62.1" y="854.5" font-size="8.2" text-anchor="end" fill="#222">HIST</text>
<circle cx="255.7" cy="851.2" r="3.6" fill="#ee1070"/>
<text x="472.5" y="849.1" font-size="11.1" text-anchor="start" fill="#111">The # of 6h periods VMAX</text>
<text x="472.5" y="862.6" font-size="11.1" text-anchor="start" fill="#111">has been above 20kt</text>
<line x1="67.60" y1="900.07" x2="467.60" y2="900.07" stroke="#e6e6e6" stroke-width="1"/>
<line x1="67.60" y1="883.79" x2="467.60" y2="883.79" stroke="#ececec" stroke-width="0.7" stroke-dasharray="1 2.5"/>
<line x1="64.10" y1="883.79" x2="67.60" y2="883.79" stroke="#444" stroke-width="0.8"/>
<line x1="467.60" y1="883.79" x2="471.10" y2="883.79" stroke="#444" stroke-width="0.8"/>
<text x="62.1" y="887.1" font-size="8.2" text-anchor="end" fill="#222">DELV</text>
<circle cx="313.6" cy="883.8" r="3.6" fill="#f5105a"/>
<text x="472.5" y="888.4" font-size="11.1" text-anchor="start" fill="#111">-12h to 0h Intensity change</text>
<line x1="67.60" y1="932.63" x2="467.60" y2="932.63" stroke="#e6e6e6" stroke-width="1"/>
<line x1="67.60" y1="916.35" x2="467.60" y2="916.35" stroke="#ececec" stroke-width="0.7" stroke-dasharray="1 2.5"/>
<line x1="64.10" y1="916.35" x2="67.60" y2="916.35" stroke="#444" stroke-width="0.8"/>
<line x1="467.60" y1="916.35" x2="471.10" y2="916.35" stroke="#444" stroke-width="0.8"/>
<text x="62.1" y="919.6" font-size="8.2" text-anchor="end" fill="#222">RSST</text>
<circle cx="370.7" cy="916.3" r="3.6" fill="#f5105a"/>
<text x="472.5" y="920.9" font-size="11.1" text-anchor="start" fill="#111">Reynolds SST</text>
<line x1="67.60" y1="965.19" x2="467.60" y2="965.19" stroke="#e6e6e6" stroke-width="1"/>
<line x1="67.60" y1="948.91" x2="467.60" y2="948.91" stroke="#ececec" stroke-width="0.7" stroke-dasharray="1 2.5"/>
<line x1="64.10" y1="948.91" x2="67.60" y2="948.91" stroke="#444" stroke-width="0.8"/>
<line x1="467.60" y1="948.91" x2="471.10" y2="948.91" stroke="#444" stroke-width="0.8"/>
<text x="62.1" y="952.2" font-size="8.2" text-anchor="end" fill="#222">COHC</text>
<circle cx="191.8" cy="948.9" r="3.6" fill="#9a30be"/>
<text x="472.5" y="953.5" font-size="11.1" text-anchor="start" fill="#111">Climatological Ocean Heat Content</text>
<line x1="67.60" y1="997.75" x2="467.60" y2="997.75" stroke="#e6e6e6" stroke-width="1"/>
<line x1="67.60" y1="981.47" x2="467.60" y2="981.47" stroke="#ececec" stroke-width="0.7" stroke-dasharray="1 2.5"/>
<line x1="64.10" y1="981.47" x2="67.60" y2="981.47" stroke="#444" stroke-width="0.8"/>
<line x1="467.60" y1="981.47" x2="471.10" y2="981.47" stroke="#444" stroke-width="0.8"/>
<text x="62.1" y="984.8" font-size="8.2" text-anchor="end" fill="#222">CD20</text>
<circle cx="386.5" cy="981.5" r="3.6" fill="#0a78ee"/>
<text x="472.5" y="979.4" font-size="11.1" text-anchor="start" fill="#111">Climatological depth of</text>
<text x="472.5" y="992.9" font-size="11.1" text-anchor="start" fill="#111">20° C isotherm</text>
<line x1="67.60" y1="1030.31" x2="467.60" y2="1030.31" stroke="#e6e6e6" stroke-width="1"/>
<line x1="67.60" y1="1014.03" x2="467.60" y2="1014.03" stroke="#ececec" stroke-width="0.7" stroke-dasharray="1 2.5"/>
<line x1="64.10" y1="1014.03" x2="67.60" y2="1014.03" stroke="#444" stroke-width="0.8"/>
<line x1="467.60" y1="1014.03" x2="471.10" y2="1014.03" stroke="#444" stroke-width="0.8"/>
<text x="62.1" y="1017.3" font-size="8.2" text-anchor="end" fill="#222">CD26</text>
<circle cx="355.6" cy="1014.0" r="3.6" fill="#0a8cf5"/>
<text x="472.5" y="1011.9" font-size="11.1" text-anchor="start" fill="#111">Climatological depth of</text>
<text x="472.5" y="1025.4" font-size="11.1" text-anchor="start" fill="#111">26° C isotherm</text>
<line x1="67.60" y1="1062.87" x2="467.60" y2="1062.87" stroke="#e6e6e6" stroke-width="1"/>
<line x1="67.60" y1="1046.59" x2="467.60" y2="1046.59" stroke="#ececec" stroke-width="0.7" stroke-dasharray="1 2.5"/>
<line x1="64.10" y1="1046.59" x2="67.60" y2="1046.59" stroke="#444" stroke-width="0.8"/>
<line x1="467.60" y1="1046.59" x2="471.10" y2="1046.59" stroke="#444" stroke-width="0.8"/>
<text x="62.1" y="1049.9" font-size="8.2" text-anchor="end" fill="#222">DTL</text>
<circle cx="259.5" cy="1046.6" r="3.6" fill="#0a8cf5"/>
<text x="472.5" y="1051.2" font-size="11.1" text-anchor="start" fill="#111">Distance to Land</text>
<line x1="67.60" y1="1095.43" x2="467.60" y2="1095.43" stroke="#e6e6e6" stroke-width="1"/>
<line x1="67.60" y1="1079.15" x2="467.60" y2="1079.15" stroke="#ececec" stroke-width="0.7" stroke-dasharray="1 2.5"/>
<line x1="64.10" y1="1079.15" x2="67.60" y2="1079.15" stroke="#444" stroke-width="0.8"/>
<line x1="467.60" y1="1079.15" x2="471.10" y2="1079.15" stroke="#444" stroke-width="0.8"/>
<text x="62.1" y="1082.5" font-size="8.2" text-anchor="end" fill="#222">U200</text>
<circle cx="314.5" cy="1079.2" r="3.6" fill="#1a88f0"/>
<text x="472.5" y="1083.8" font-size="11.1" text-anchor="start" fill="#111">200hPa zonal wind (200-800 km)</text>
<line x1="67.60" y1="1127.99" x2="467.60" y2="1127.99" stroke="#e6e6e6" stroke-width="1"/>
<line x1="67.60" y1="1111.71" x2="467.60" y2="1111.71" stroke="#ececec" stroke-width="0.7" stroke-dasharray="1 2.5"/>
<line x1="64.10" y1="1111.71" x2="67.60" y2="1111.71" stroke="#444" stroke-width="0.8"/>
<line x1="467.60" y1="1111.71" x2="471.10" y2="1111.71" stroke="#444" stroke-width="0.8"/>
<text x="62.1" y="1115.0" font-size="8.2" text-anchor="end" fill="#222">U20C</text>
<circle cx="320.5" cy="1111.7" r="3.6" fill="#e61080"/>
<text x="472.5" y="1116.3" font-size="11.1" text-anchor="start" fill="#111">200hPa zonal wind (0-500 km)</text>
<line x1="67.60" y1="1160.55" x2="467.60" y2="1160.55" stroke="#e6e6e6" stroke-width="1"/>
<line x1="67.60" y1="1144.27" x2="467.60" y2="1144.27" stroke="#ececec" stroke-width="0.7" stroke-dasharray="1 2.5"/>
<line x1="64.10" y1="1144.27" x2="67.60" y2="1144.27" stroke="#444" stroke-width="0.8"/>
<line x1="467.60" y1="1144.27" x2="471.10" y2="1144.27" stroke="#444" stroke-width="0.8"/>
<text x="62.1" y="1147.6" font-size="8.2" text-anchor="end" fill="#222">V20C</text>
<circle cx="310.6" cy="1144.3" r="3.6" fill="#d810a0"/>
<text x="472.5" y="1148.9" font-size="11.1" text-anchor="start" fill="#111">200hPa meridional wind (0-500 km)</text>
<line x1="67.60" y1="1193.11" x2="467.60" y2="1193.11" stroke="#e6e6e6" stroke-width="1"/>
<line x1="67.60" y1="1176.83" x2="467.60" y2="1176.83" stroke="#ececec" stroke-width="0.7" stroke-dasharray="1 2.5"/>
<line x1="64.10" y1="1176.83" x2="67.60" y2="1176.83" stroke="#444" stroke-width="0.8"/>
<line x1="467.60" y1="1176.83" x2="471.10" y2="1176.83" stroke="#444" stroke-width="0.8"/>
<text x="62.1" y="1180.1" font-size="8.2" text-anchor="end" fill="#222">RHMD</text>
<circle cx="398.5" cy="1176.8" r="3.6" fill="#f5105a"/>
<text x="472.5" y="1174.7" font-size="11.1" text-anchor="start" fill="#111">700-500hPa relative humidity</text>
<text x="472.5" y="1188.2" font-size="11.1" text-anchor="start" fill="#111">(200-800 km)</text>
<line x1="67.60" y1="1225.67" x2="467.60" y2="1225.67" stroke="#e6e6e6" stroke-width="1"/>
<line x1="67.60" y1="1209.39" x2="467.60" y2="1209.39" stroke="#ececec" stroke-width="0.7" stroke-dasharray="1 2.5"/>
<line x1="64.10" y1="1209.39" x2="67.60" y2="1209.39" stroke="#444" stroke-width="0.8"/>
<line x1="467.60" y1="1209.39" x2="471.10" y2="1209.39" stroke="#444" stroke-width="0.8"/>
<text x="62.1" y="1212.7" font-size="8.2" text-anchor="end" fill="#222">Z850</text>
<circle cx="329.9" cy="1209.4" r="3.6" fill="#f5105a"/>
<text x="472.5" y="1214.0" font-size="11.1" text-anchor="start" fill="#111">850hPa vorticity (0-1000 km)</text>
<line x1="67.60" y1="1258.23" x2="467.60" y2="1258.23" stroke="#e6e6e6" stroke-width="1"/>
<line x1="67.60" y1="1241.95" x2="467.60" y2="1241.95" stroke="#ececec" stroke-width="0.7" stroke-dasharray="1 2.5"/>
<line x1="64.10" y1="1241.95" x2="67.60" y2="1241.95" stroke="#444" stroke-width="0.8"/>
<line x1="467.60" y1="1241.95" x2="471.10" y2="1241.95" stroke="#444" stroke-width="0.8"/>
<text x="62.1" y="1245.3" font-size="8.2" text-anchor="end" fill="#222">V850</text>
<circle cx="316.6" cy="1242.0" r="3.6" fill="#ec1078"/>
<text x="472.5" y="1239.9" font-size="11.1" text-anchor="start" fill="#111">850hPa tangential wind azimuthally</text>
<text x="472.5" y="1253.4" font-size="11.1" text-anchor="start" fill="#111">averaged at 500 km</text>
<line x1="67.60" y1="1290.80" x2="467.60" y2="1290.80" stroke="#e6e6e6" stroke-width="1"/>
<line x1="67.60" y1="1274.52" x2="467.60" y2="1274.52" stroke="#ececec" stroke-width="0.7" stroke-dasharray="1 2.5"/>
<line x1="64.10" y1="1274.52" x2="67.60" y2="1274.52" stroke="#444" stroke-width="0.8"/>
<line x1="467.60" y1="1274.52" x2="471.10" y2="1274.52" stroke="#444" stroke-width="0.8"/>
<text x="62.1" y="1277.8" font-size="8.2" text-anchor="end" fill="#222">V500</text>
<circle cx="329.0" cy="1274.5" r="3.6" fill="#b020b0"/>
<text x="472.5" y="1272.4" font-size="11.1" text-anchor="start" fill="#111">500hPa tangential wind azimuthally</text>
<text x="472.5" y="1285.9" font-size="11.1" text-anchor="start" fill="#111">averaged at 500 km</text>
<line x1="67.60" y1="1323.36" x2="467.60" y2="1323.36" stroke="#e6e6e6" stroke-width="1"/>
<line x1="67.60" y1="1307.08" x2="467.60" y2="1307.08" stroke="#ececec" stroke-width="0.7" stroke-dasharray="1 2.5"/>
<line x1="64.10" y1="1307.08" x2="67.60" y2="1307.08" stroke="#444" stroke-width="0.8"/>
<line x1="467.60" y1="1307.08" x2="471.10" y2="1307.08" stroke="#444" stroke-width="0.8"/>
<text x="62.1" y="1310.4" font-size="8.2" text-anchor="end" fill="#222">V300</text>
<circle cx="310.6" cy="1307.1" r="3.6" fill="#f5105a"/>
<text x="472.5" y="1305.0" font-size="11.1" text-anchor="start" fill="#111">300hPa tangential wind azimuthally</text>
<text x="472.5" y="1318.5" font-size="11.1" text-anchor="start" fill="#111">averaged at 500 km</text>
<line x1="67.60" y1="1355.92" x2="467.60" y2="1355.92" stroke="#e6e6e6" stroke-width="1"/>
<line x1="67.60" y1="1339.64" x2="467.60" y2="1339.64" stroke="#ececec" stroke-width="0.7" stroke-dasharray="1 2.5"/>
<line x1="64.10" y1="1339.64" x2="67.60" y2="1339.64" stroke="#444" stroke-width="0.8"/>
<line x1="467.60" y1="1339.64" x2="471.10" y2="1339.64" stroke="#444" stroke-width="0.8"/>
<text x="62.1" y="1342.9" font-size="8.2" text-anchor="end" fill="#222">DIVC</text>
<circle cx="316.6" cy="1339.6" r="3.6" fill="#f01068"/>
<text x="472.5" y="1337.5" font-size="11.1" text-anchor="start" fill="#111">200hPa divergence centered at</text>
<text x="472.5" y="1351.0" font-size="11.1" text-anchor="start" fill="#111">850hPa vortex location</text>
<line x1="67.60" y1="1388.48" x2="467.60" y2="1388.48" stroke="#e6e6e6" stroke-width="1"/>
<line x1="67.60" y1="1372.20" x2="467.60" y2="1372.20" stroke="#ececec" stroke-width="0.7" stroke-dasharray="1 2.5"/>
<line x1="64.10" y1="1372.20" x2="67.60" y2="1372.20" stroke="#444" stroke-width="0.8"/>
<line x1="467.60" y1="1372.20" x2="471.10" y2="1372.20" stroke="#444" stroke-width="0.8"/>
<text x="62.1" y="1375.5" font-size="8.2" text-anchor="end" fill="#222">SHDC</text>
<circle cx="317.9" cy="1372.2" r="3.6" fill="#6a5ad8"/>
<text x="472.5" y="1370.1" font-size="11.1" text-anchor="start" fill="#111">850-200hPa shear with</text>
<text x="472.5" y="1383.6" font-size="11.1" text-anchor="start" fill="#111">vortex removed (0-500 km)</text>
<line x1="67.60" y1="1421.04" x2="467.60" y2="1421.04" stroke="#e6e6e6" stroke-width="1"/>
<line x1="67.60" y1="1404.76" x2="467.60" y2="1404.76" stroke="#ececec" stroke-width="0.7" stroke-dasharray="1 2.5"/>
<line x1="64.10" y1="1404.76" x2="67.60" y2="1404.76" stroke="#444" stroke-width="0.8"/>
<line x1="467.60" y1="1404.76" x2="471.10" y2="1404.76" stroke="#444" stroke-width="0.8"/>
<text x="62.1" y="1408.1" font-size="8.2" text-anchor="end" fill="#222">SHRD</text>
<circle cx="314.0" cy="1404.8" r="3.6" fill="#d810a0"/>
<text x="472.5" y="1409.4" font-size="11.1" text-anchor="start" fill="#111">850-200hPa shear (200-800 km)</text>
<line x1="67.60" y1="1453.60" x2="467.60" y2="1453.60" stroke="#e6e6e6" stroke-width="1"/>
<line x1="67.60" y1="1437.32" x2="467.60" y2="1437.32" stroke="#ececec" stroke-width="0.7" stroke-dasharray="1 2.5"/>
<line x1="64.10" y1="1437.32" x2="67.60" y2="1437.32" stroke="#444" stroke-width="0.8"/>
<line x1="467.60" y1="1437.32" x2="471.10" y2="1437.32" stroke="#444" stroke-width="0.8"/>
<text x="62.1" y="1440.6" font-size="8.2" text-anchor="end" fill="#222">SHRS</text>
<circle cx="310.6" cy="1437.3" r="3.6" fill="#e01090"/>
<text x="472.5" y="1441.9" font-size="11.1" text-anchor="start" fill="#111">850-500hPa shear (200-800 km)</text>
<line x1="67.60" y1="1486.16" x2="467.60" y2="1486.16" stroke="#e6e6e6" stroke-width="1"/>
<line x1="67.60" y1="1469.88" x2="467.60" y2="1469.88" stroke="#ececec" stroke-width="0.7" stroke-dasharray="1 2.5"/>
<line x1="64.10" y1="1469.88" x2="67.60" y2="1469.88" stroke="#444" stroke-width="0.8"/>
<line x1="467.60" y1="1469.88" x2="471.10" y2="1469.88" stroke="#444" stroke-width="0.8"/>
<text x="62.1" y="1473.2" font-size="8.2" text-anchor="end" fill="#222">SPD</text>
<circle cx="317.0" cy="1469.9" r="3.6" fill="#c818a8"/>
<text x="472.5" y="1474.5" font-size="11.1" text-anchor="start" fill="#111">TC Translation Speed</text>
<line x1="67.60" y1="1518.72" x2="467.60" y2="1518.72" stroke="#e6e6e6" stroke-width="1"/>
<line x1="67.60" y1="1502.44" x2="467.60" y2="1502.44" stroke="#ececec" stroke-width="0.7" stroke-dasharray="1 2.5"/>
<line x1="64.10" y1="1502.44" x2="67.60" y2="1502.44" stroke="#444" stroke-width="0.8"/>
<line x1="467.60" y1="1502.44" x2="471.10" y2="1502.44" stroke="#444" stroke-width="0.8"/>
<text x="62.1" y="1505.7" font-size="8.2" text-anchor="end" fill="#222">EPSS</text>
<circle cx="310.2" cy="1502.4" r="3.6" fill="#c018a8"/>
<text x="472.5" y="1499.2" font-size="11.1" text-anchor="start" fill="#111">Avg. Δ <tspan font-style="italic">θ</tspan><tspan font-style="italic" font-size="7.8" dy="2.2">e</tspan><tspan dy="-2.2"> </tspan>(only +) btwn parcel lifted from</text>
<text x="472.5" y="1515.0" font-size="11.1" text-anchor="start" fill="#111">sfc. and saturated env. <tspan font-style="italic">θ</tspan><tspan font-style="italic" font-size="7.8" dy="2.2">e</tspan><tspan dy="-2.2"> </tspan>(200-800 km)</text>
<line x1="67.60" y1="1535.00" x2="467.60" y2="1535.00" stroke="#ececec" stroke-width="0.7" stroke-dasharray="1 2.5"/>
<line x1="64.10" y1="1535.00" x2="67.60" y2="1535.00" stroke="#444" stroke-width="0.8"/>
<line x1="467.60" y1="1535.00" x2="471.10" y2="1535.00" stroke="#444" stroke-width="0.8"/>
<text x="62.1" y="1538.3" font-size="8.2" text-anchor="end" fill="#222">ENSS</text>
<circle cx="290.4" cy="1535.0" r="3.6" fill="#e01090"/>
<text x="472.5" y="1531.8" font-size="11.1" text-anchor="start" fill="#111">Avg. Δ <tspan font-style="italic">θ</tspan><tspan font-style="italic" font-size="7.8" dy="2.2">e</tspan><tspan dy="-2.2"> </tspan>(only -) btwn parcel lifted from</text>
<text x="472.5" y="1547.6" font-size="11.1" text-anchor="start" fill="#111">sfc. and saturated env. <tspan font-style="italic">θ</tspan><tspan font-style="italic" font-size="7.8" dy="2.2">e</tspan><tspan dy="-2.2"> </tspan>(200-800 km)</text>
<line x1="449.40" y1="444.30" x2="449.40" y2="1550.80" stroke="#777" stroke-width="1"/>
<rect x="67.60" y="444.30" width="400.00" height="1106.50" fill="none" stroke="#555" stroke-width="1"/>
<line x1="70.88" y1="1550.80" x2="70.88" y2="1554.30" stroke="#444" stroke-width="0.8"/>
<text x="70.9" y="1564.3" font-size="8.2" text-anchor="middle" fill="#222">−7</text>
<line x1="124.94" y1="1550.80" x2="124.94" y2="1554.30" stroke="#444" stroke-width="0.8"/>
<text x="124.9" y="1564.3" font-size="8.2" text-anchor="middle" fill="#222">−6</text>
<line x1="179.00" y1="1550.80" x2="179.00" y2="1554.30" stroke="#444" stroke-width="0.8"/>
<text x="179.0" y="1564.3" font-size="8.2" text-anchor="middle" fill="#222">−5</text>
<line x1="233.06" y1="1550.80" x2="233.06" y2="1554.30" stroke="#444" stroke-width="0.8"/>
<text x="233.1" y="1564.3" font-size="8.2" text-anchor="middle" fill="#222">−4</text>
<line x1="287.12" y1="1550.80" x2="287.12" y2="1554.30" stroke="#444" stroke-width="0.8"/>
<text x="287.1" y="1564.3" font-size="8.2" text-anchor="middle" fill="#222">−3</text>
<line x1="341.18" y1="1550.80" x2="341.18" y2="1554.30" stroke="#444" stroke-width="0.8"/>
<text x="341.2" y="1564.3" font-size="8.2" text-anchor="middle" fill="#222">−2</text>
<line x1="395.24" y1="1550.80" x2="395.24" y2="1554.30" stroke="#444" stroke-width="0.8"/>
<text x="395.2" y="1564.3" font-size="8.2" text-anchor="middle" fill="#222">−1</text>
<line x1="449.30" y1="1550.80" x2="449.30" y2="1554.30" stroke="#444" stroke-width="0.8"/>
<text x="449.3" y="1564.3" font-size="8.2" text-anchor="middle" fill="#222">0</text>
<text x="267.5" y="1576.0" font-size="11.1" text-anchor="middle" fill="#111">SHAP Value [kts]</text>
<rect x="41.60" y="1599.30" width="587.70" height="24.90" fill="url(#gSHAP)" stroke="#555" stroke-width="0.6"/>
<text x="33.0" y="1636.0" font-size="8.2" text-anchor="start" fill="#222">Low</text>
<text x="639.5" y="1636.0" font-size="8.2" text-anchor="end" fill="#222">High</text>
<text x="41.6" y="1651.5" font-size="9.03" text-anchor="start" fill="#111">SHAP Value: Amount each feature [listed on Y-axis] contributes to the predicted intensity above or below <tspan text-decoration="underline">60 kts</tspan></text>
<text x="41.6" y="1666.5" font-size="9.03" text-anchor="start" fill="#111">Feature Value: The value of the feature [listed on Y-axis] for the given TC compared to the training dataset</text>
<text x="917.5" y="431.0" font-size="11.78" text-anchor="middle" fill="#111">Comparison of IR SHAP Values for 2023_02A at 20230607 2112UTC</text>
<text x="817.6" y="449.8" font-size="10.97" text-anchor="middle" fill="#111">0h old IR Data</text>
<text x="1055.0" y="449.8" font-size="10.97" text-anchor="middle" fill="#111">SHAP Value=-0.06 kts</text>
<svg x="717.5" y="454.1" width="200.5" height="200" viewBox="0 0 100 100" preserveAspectRatio="none"><g filter="url(#fIR)"><rect x="-30" y="-30" width="160" height="160" fill="rgb(161,161,161)"/><g filter="url(#pb6)"><ellipse cx="20" cy="14" rx="14" ry="4" fill="rgb(184,184,184)"/><ellipse cx="38" cy="8" rx="4" ry="8" transform="rotate(10 38 8)" fill="rgb(188,188,188)"/><ellipse cx="52" cy="5" rx="5" ry="4" fill="rgb(180,180,180)"/><ellipse cx="55" cy="28" rx="18" ry="12" transform="rotate(20 55 28)" fill="rgb(129,129,129)"/><ellipse cx="45" cy="17" rx="6" ry="9" transform="rotate(30 45 17)" fill="rgb(110,110,110)"/><ellipse cx="5" cy="10" rx="8" ry="9" fill="rgb(106,106,106)"/><ellipse cx="5" cy="12" rx="3" ry="5" fill="rgb(82,82,82)"/><ellipse cx="96" cy="92" rx="10" ry="10" fill="rgb(118,118,118)"/><ellipse cx="60" cy="100" rx="20" ry="8" fill="rgb(137,137,137)"/><ellipse cx="70" cy="64" rx="4" ry="10" transform="rotate(-20 70 64)" fill="rgb(129,129,129)"/></g><g filter="url(#pb3)"><path d="M52 -10 L60 4 L66 12 L80 16 L92 14 L110 14 L110 -10 Z" fill="rgb(222,222,222)"/><ellipse cx="78" cy="12" rx="10" ry="4" transform="rotate(10 78 12)" fill="rgb(222,222,222)"/><ellipse cx="78" cy="80" rx="7" ry="14" transform="rotate(25 78 80)" fill="rgb(218,218,218)"/><ellipse cx="92" cy="62" rx="4" ry="8" transform="rotate(20 92 62)" fill="rgb(212,212,212)"/><ellipse cx="70" cy="36" rx="7" ry="2.5" transform="rotate(25 70 36)" fill="rgb(204,204,204)"/><ellipse cx="12" cy="15" rx="2.5" ry="2" fill="rgb(204,204,204)"/><ellipse cx="20" cy="17" rx="3" ry="2" fill="rgb(204,204,204)"/><ellipse cx="28" cy="14" rx="3" ry="2" fill="rgb(200,200,200)"/><ellipse cx="40" cy="6" rx="2.5" ry="5" transform="rotate(10 40 6)" fill="rgb(204,204,204)"/></g><g filter="url(#pb4)"><path d="M-10 18 L18 19 L36 21 L42 35 L52 34 L67 42 L73 60 L69 77 L57 89 L49 100 L40 110 L-10 110 Z" fill="rgb(114,114,114)"/><path d="M-10 22 L18 22 L35 25 L40 39 L52 38 L64 44 L70 60 L66 76 L55 87 L45 98 L-10 110 Z" fill="rgb(71,71,71)"/></g><g filter="url(#pb3)"><path d="M-10 74 L20 76 L36 80 L30 92 L20 110 L-10 110 Z" fill="rgb(90,90,90)"/><ellipse cx="14" cy="78" rx="12" ry="3" transform="rotate(5 14 78)" fill="rgb(106,106,106)"/><ellipse cx="20" cy="88" rx="5" ry="5" fill="rgb(102,102,102)"/><path d="M-5 96 L20 94 L40 86" fill="none" stroke="rgb(63,63,63)" stroke-width="4" stroke-linecap="round" stroke-linejoin="round"/><path d="M0 29 L18 25 L33 29 L39 43 L44 49 L56 44 L64 51 L67 62 L63 74 L52 83 L40 87 L30 79 L8 74 L0 60 Z" fill="rgb(57,57,57)"/></g><g filter="url(#pb1.5)"><ellipse cx="23" cy="41" rx="12.5" ry="12" fill="rgb(25,25,25)" stroke="rgb(34,34,34)" stroke-width="2"/><ellipse cx="21" cy="62" rx="17.5" ry="12.5" transform="rotate(10 21 62)" fill="rgb(25,25,25)" stroke="rgb(34,34,34)" stroke-width="2"/><ellipse cx="57" cy="59" rx="8.5" ry="13.5" fill="rgb(25,25,25)" stroke="rgb(34,34,34)" stroke-width="2"/><path d="M59 70 L53 78 L44 82" fill="none" stroke="rgb(28,28,28)" stroke-width="9" stroke-linecap="round" stroke-linejoin="round"/><ellipse cx="5" cy="85" rx="6" ry="3.2" transform="rotate(-10 5 85)" fill="rgb(26,26,26)" stroke="rgb(34,34,34)" stroke-width="2"/><ellipse cx="32" cy="84" rx="3" ry="1.2" transform="rotate(-10 32 84)" fill="rgb(35,35,35)"/></g><g filter="url(#pb1)"><ellipse cx="28" cy="50" rx="4.2" ry="3.6" fill="rgb(8,8,8)"/><path d="M28 38 L30 47" fill="none" stroke="rgb(10,10,10)" stroke-width="2" stroke-linecap="round" stroke-linejoin="round"/><ellipse cx="28" cy="62" rx="7.5" ry="4.6" transform="rotate(-5 28 62)" fill="rgb(8,8,8)"/><ellipse cx="58" cy="61" rx="6.6" ry="7.8" transform="rotate(-10 58 61)" fill="rgb(6,6,6)"/></g></g></svg>
<svg x="955.3" y="454.1" width="200.5" height="200" viewBox="0 0 100 100" preserveAspectRatio="none"><g filter="url(#fSH0)"><rect x="-20" y="-20" width="140" height="140" fill="rgb(5,128,0)"/><ellipse cx="56" cy="55" rx="22" ry="22" fill="rgb(18,129,0)" filter="url(#pb8)"/><ellipse cx="56" cy="58" rx="8" ry="10" fill="rgb(31,134,0)" filter="url(#pb4)"/></g><ellipse cx="49" cy="50" rx="1.6" ry="1.3" transform="rotate(30 49 50)" fill="#5a5aff" opacity="0.6" filter="url(#pb0.6)"/><ellipse cx="57" cy="55" rx="1.2" ry="1.6" fill="#6a6aff" opacity="0.5" filter="url(#pb0.6)"/><ellipse cx="56" cy="64" rx="1.6" ry="1.4" fill="#ff6a6a" opacity="0.55" filter="url(#pb0.7)"/><ellipse cx="59" cy="60" rx="1" ry="2" transform="rotate(20 59 60)" fill="#ff8a8a" opacity="0.5" filter="url(#pb0.6)"/><ellipse cx="25" cy="99" rx="6" ry="1" fill="#ffb0b0" opacity="0.5" filter="url(#pb0.8)"/></svg>
<rect x="717.50" y="454.10" width="200.50" height="200.00" fill="none" stroke="#222" stroke-width="0.9"/>
<rect x="955.30" y="454.10" width="200.50" height="200.00" fill="none" stroke="#444" stroke-width="0.9"/>
<line x1="714.50" y1="485.20" x2="717.50" y2="485.20" stroke="#222" stroke-width="0.8"/>
<line x1="952.30" y1="485.20" x2="955.30" y2="485.20" stroke="#222" stroke-width="0.8"/>
<text x="712.2" y="488.8" font-size="9.7" text-anchor="end" fill="#111">16</text>
<line x1="714.50" y1="516.58" x2="717.50" y2="516.58" stroke="#222" stroke-width="0.8"/>
<line x1="952.30" y1="516.58" x2="955.30" y2="516.58" stroke="#222" stroke-width="0.8"/>
<text x="712.2" y="520.2" font-size="9.7" text-anchor="end" fill="#111">15</text>
<line x1="714.50" y1="547.96" x2="717.50" y2="547.96" stroke="#222" stroke-width="0.8"/>
<line x1="952.30" y1="547.96" x2="955.30" y2="547.96" stroke="#222" stroke-width="0.8"/>
<text x="712.2" y="551.6" font-size="9.7" text-anchor="end" fill="#111">14</text>
<line x1="714.50" y1="579.34" x2="717.50" y2="579.34" stroke="#222" stroke-width="0.8"/>
<line x1="952.30" y1="579.34" x2="955.30" y2="579.34" stroke="#222" stroke-width="0.8"/>
<text x="712.2" y="582.9" font-size="9.7" text-anchor="end" fill="#111">13</text>
<line x1="714.50" y1="610.72" x2="717.50" y2="610.72" stroke="#222" stroke-width="0.8"/>
<line x1="952.30" y1="610.72" x2="955.30" y2="610.72" stroke="#222" stroke-width="0.8"/>
<text x="712.2" y="614.3" font-size="9.7" text-anchor="end" fill="#111">12</text>
<line x1="714.50" y1="642.10" x2="717.50" y2="642.10" stroke="#222" stroke-width="0.8"/>
<line x1="952.30" y1="642.10" x2="955.30" y2="642.10" stroke="#222" stroke-width="0.8"/>
<text x="712.2" y="645.7" font-size="9.7" text-anchor="end" fill="#111">11</text>
<line x1="728.80" y1="654.10" x2="728.80" y2="657.10" stroke="#222" stroke-width="0.8"/>
<line x1="966.60" y1="654.10" x2="966.60" y2="657.10" stroke="#222" stroke-width="0.8"/>
<text x="728.8" y="667.3" font-size="9.7" text-anchor="middle" fill="#111">63</text>
<line x1="759.30" y1="654.10" x2="759.30" y2="657.10" stroke="#222" stroke-width="0.8"/>
<line x1="997.10" y1="654.10" x2="997.10" y2="657.10" stroke="#222" stroke-width="0.8"/>
<text x="759.3" y="667.3" font-size="9.7" text-anchor="middle" fill="#111">64</text>
<line x1="789.80" y1="654.10" x2="789.80" y2="657.10" stroke="#222" stroke-width="0.8"/>
<line x1="1027.60" y1="654.10" x2="1027.60" y2="657.10" stroke="#222" stroke-width="0.8"/>
<text x="789.8" y="667.3" font-size="9.7" text-anchor="middle" fill="#111">65</text>
<line x1="820.30" y1="654.10" x2="820.30" y2="657.10" stroke="#222" stroke-width="0.8"/>
<line x1="1058.10" y1="654.10" x2="1058.10" y2="657.10" stroke="#222" stroke-width="0.8"/>
<text x="820.3" y="667.3" font-size="9.7" text-anchor="middle" fill="#111">66</text>
<line x1="850.80" y1="654.10" x2="850.80" y2="657.10" stroke="#222" stroke-width="0.8"/>
<line x1="1088.60" y1="654.10" x2="1088.60" y2="657.10" stroke="#222" stroke-width="0.8"/>
<text x="850.8" y="667.3" font-size="9.7" text-anchor="middle" fill="#111">67</text>
<line x1="881.30" y1="654.10" x2="881.30" y2="657.10" stroke="#222" stroke-width="0.8"/>
<line x1="1119.10" y1="654.10" x2="1119.10" y2="657.10" stroke="#222" stroke-width="0.8"/>
<text x="881.3" y="667.3" font-size="9.7" text-anchor="middle" fill="#111">68</text>
<line x1="911.80" y1="654.10" x2="911.80" y2="657.10" stroke="#222" stroke-width="0.8"/>
<line x1="1149.60" y1="654.10" x2="1149.60" y2="657.10" stroke="#222" stroke-width="0.8"/>
<text x="911.8" y="667.3" font-size="9.7" text-anchor="middle" fill="#111">69</text>
<text x="817.6" y="687.4" font-size="10.97" text-anchor="middle" fill="#111">3h old IR Data</text>
<text x="1055.0" y="687.4" font-size="10.97" text-anchor="middle" fill="#111">SHAP Value=-0.95 kts</text>
<svg x="717.5" y="691.6500000000001" width="200.5" height="200" viewBox="0 0 100 100" preserveAspectRatio="none"><g filter="url(#fIR)"><rect x="-30" y="-30" width="160" height="160" fill="rgb(161,161,161)"/><g filter="url(#pb6)"><ellipse cx="8" cy="8" rx="12" ry="8" transform="rotate(-20 8 8)" fill="rgb(137,137,137)"/><ellipse cx="40" cy="42" rx="25" ry="20" fill="rgb(126,126,126)"/><ellipse cx="35" cy="21" rx="4" ry="2" fill="rgb(90,90,90)"/><ellipse cx="25" cy="88" rx="30" ry="8" fill="rgb(129,129,129)"/><ellipse cx="10" cy="72" rx="12" ry="10" fill="rgb(114,114,114)"/><ellipse cx="80" cy="100" rx="10" ry="5" fill="rgb(94,94,94)"/><ellipse cx="95" cy="80" rx="6" ry="12" fill="rgb(133,133,133)"/><ellipse cx="70" cy="28" rx="8" ry="5" transform="rotate(30 70 28)" fill="rgb(129,129,129)"/></g><g filter="url(#pb3)"><path d="M19 -10 L22 4 L40 3 L44 8 L60 13 L72 14 L85 16 L100 24 L110 26 L110 -10 Z" fill="rgb(224,224,224)"/><ellipse cx="29" cy="12" rx="10" ry="9" transform="rotate(20 29 12)" fill="rgb(198,198,198)"/><ellipse cx="43" cy="23" rx="12" ry="6" transform="rotate(25 43 23)" fill="rgb(198,198,198)"/><ellipse cx="55" cy="25" rx="5" ry="8" fill="rgb(198,198,198)"/><ellipse cx="36" cy="30" rx="5" ry="3" fill="rgb(194,194,194)"/><path d="M71 40 L82 37 L96 45 L102 60 L94 66 L90 80 L84 94 L68 94 L73 78 L71 64 L75 52 Z" fill="rgb(212,212,212)"/><ellipse cx="58" cy="88" rx="8" ry="4" transform="rotate(-15 58 88)" fill="rgb(204,204,204)"/><ellipse cx="18" cy="75" rx="3" ry="2.5" fill="rgb(161,161,161)"/></g><g filter="url(#pb3.5)"><path d="M-10 15 L12 12 L19 20 L26 30 L34 25 L43 31 L52 39 L63 45 L68 58 L65 74 L51 83 L35 81 L19 70 L7 57 L-10 47 Z" fill="rgb(106,106,106)"/><ellipse cx="18" cy="95" rx="14" ry="6" fill="rgb(75,75,75)"/></g><g filter="url(#pb2.5)"><path d="M-10 18 L11 15 L17 22 L25 33 L34 28 L41 33 L47 43 L58 47 L65 58 L62 72 L50 80 L36 78 L21 68 L9 55 L-10 45 Z" fill="rgb(67,67,67)"/><ellipse cx="46" cy="41" rx="6" ry="4" transform="rotate(20 46 41)" fill="rgb(86,86,86)"/><ellipse cx="30" cy="62" rx="12" ry="8" transform="rotate(20 30 62)" fill="rgb(51,51,51)"/><ellipse cx="18" cy="95" rx="8" ry="3" fill="rgb(47,47,47)"/><ellipse cx="12" cy="24" rx="8" ry="5" fill="rgb(47,47,47)"/></g><g filter="url(#pb1.5)"><path d="M2 29 L8 22 L16 22 L20 32 L26 40 L31 33 L36 30 L40 33 L38 40 L35 46 L38 54 L30 59 L20 56 L12 50 L4 42 Z" fill="rgb(25,25,25)" stroke="rgb(34,34,34)" stroke-width="2" stroke-linejoin="round"/><ellipse cx="52" cy="60" rx="11.5" ry="11.5" fill="rgb(24,24,24)" stroke="rgb(34,34,34)" stroke-width="2"/><ellipse cx="40" cy="59" rx="4" ry="5" fill="rgb(33,33,33)"/><ellipse cx="1" cy="65" rx="4.5" ry="5.5" fill="rgb(27,27,27)" stroke="rgb(34,34,34)" stroke-width="2"/><ellipse cx="21" cy="92" rx="3" ry="2" transform="rotate(-20 21 92)" fill="rgb(31,31,31)"/></g><g filter="url(#pb1)"><ellipse cx="52" cy="60" rx="6.4" ry="6.4" fill="rgb(8,8,8)"/><ellipse cx="28" cy="53" rx="2.5" ry="1.2" fill="rgb(12,12,12)"/><ellipse cx="23" cy="42" rx="1.5" ry="2.5" transform="rotate(20 23 42)" fill="rgb(14,14,14)"/></g></g></svg>
<svg x="955.3" y="691.6500000000001" width="200.5" height="200" viewBox="0 0 100 100" preserveAspectRatio="none"><g filter="url(#fSH1)"><rect x="-20" y="-20" width="140" height="140" fill="rgb(5,128,0)"/><ellipse cx="54" cy="55" rx="20" ry="20" fill="rgb(20,128,0)" filter="url(#pb8)"/><ellipse cx="54" cy="56" rx="9" ry="9" fill="rgb(37,130,0)" filter="url(#pb4)"/></g><ellipse cx="48" cy="49" rx="1.7" ry="1.5" transform="rotate(20 48 49)" fill="#4a4aff" opacity="0.7" filter="url(#pb0.6)"/><ellipse cx="57" cy="55" rx="1.2" ry="1.8" fill="#5a5aff" opacity="0.65" filter="url(#pb0.6)"/><ellipse cx="44" cy="58" rx="1.5" ry="1" fill="#7a7aff" opacity="0.5" filter="url(#pb0.6)"/><ellipse cx="52" cy="60" rx="1.4" ry="1.2" fill="#ff4a4a" opacity="0.6" filter="url(#pb0.6)"/><ellipse cx="56" cy="64" rx="1.2" ry="1.2" fill="#ff7a7a" opacity="0.5" filter="url(#pb0.6)"/><ellipse cx="1" cy="40" rx="1" ry="14" fill="#ffc0c0" opacity="0.5" filter="url(#pb1)"/></svg>
<rect x="717.50" y="691.65" width="200.50" height="200.00" fill="none" stroke="#222" stroke-width="0.9"/>
<rect x="955.30" y="691.65" width="200.50" height="200.00" fill="none" stroke="#444" stroke-width="0.9"/>
<line x1="714.50" y1="722.30" x2="717.50" y2="722.30" stroke="#222" stroke-width="0.8"/>
<line x1="952.30" y1="722.30" x2="955.30" y2="722.30" stroke="#222" stroke-width="0.8"/>
<text x="712.2" y="725.9" font-size="9.7" text-anchor="end" fill="#111">16</text>
<line x1="714.50" y1="753.68" x2="717.50" y2="753.68" stroke="#222" stroke-width="0.8"/>
<line x1="952.30" y1="753.68" x2="955.30" y2="753.68" stroke="#222" stroke-width="0.8"/>
<text x="712.2" y="757.3" font-size="9.7" text-anchor="end" fill="#111">15</text>
<line x1="714.50" y1="785.06" x2="717.50" y2="785.06" stroke="#222" stroke-width="0.8"/>
<line x1="952.30" y1="785.06" x2="955.30" y2="785.06" stroke="#222" stroke-width="0.8"/>
<text x="712.2" y="788.7" font-size="9.7" text-anchor="end" fill="#111">14</text>
<line x1="714.50" y1="816.44" x2="717.50" y2="816.44" stroke="#222" stroke-width="0.8"/>
<line x1="952.30" y1="816.44" x2="955.30" y2="816.44" stroke="#222" stroke-width="0.8"/>
<text x="712.2" y="820.0" font-size="9.7" text-anchor="end" fill="#111">13</text>
<line x1="714.50" y1="847.82" x2="717.50" y2="847.82" stroke="#222" stroke-width="0.8"/>
<line x1="952.30" y1="847.82" x2="955.30" y2="847.82" stroke="#222" stroke-width="0.8"/>
<text x="712.2" y="851.4" font-size="9.7" text-anchor="end" fill="#111">12</text>
<line x1="714.50" y1="879.20" x2="717.50" y2="879.20" stroke="#222" stroke-width="0.8"/>
<line x1="952.30" y1="879.20" x2="955.30" y2="879.20" stroke="#222" stroke-width="0.8"/>
<text x="712.2" y="882.8" font-size="9.7" text-anchor="end" fill="#111">11</text>
<line x1="728.80" y1="891.65" x2="728.80" y2="894.65" stroke="#222" stroke-width="0.8"/>
<line x1="966.60" y1="891.65" x2="966.60" y2="894.65" stroke="#222" stroke-width="0.8"/>
<text x="728.8" y="904.9" font-size="9.7" text-anchor="middle" fill="#111">63</text>
<line x1="759.30" y1="891.65" x2="759.30" y2="894.65" stroke="#222" stroke-width="0.8"/>
<line x1="997.10" y1="891.65" x2="997.10" y2="894.65" stroke="#222" stroke-width="0.8"/>
<text x="759.3" y="904.9" font-size="9.7" text-anchor="middle" fill="#111">64</text>
<line x1="789.80" y1="891.65" x2="789.80" y2="894.65" stroke="#222" stroke-width="0.8"/>
<line x1="1027.60" y1="891.65" x2="1027.60" y2="894.65" stroke="#222" stroke-width="0.8"/>
<text x="789.8" y="904.9" font-size="9.7" text-anchor="middle" fill="#111">65</text>
<line x1="820.30" y1="891.65" x2="820.30" y2="894.65" stroke="#222" stroke-width="0.8"/>
<line x1="1058.10" y1="891.65" x2="1058.10" y2="894.65" stroke="#222" stroke-width="0.8"/>
<text x="820.3" y="904.9" font-size="9.7" text-anchor="middle" fill="#111">66</text>
<line x1="850.80" y1="891.65" x2="850.80" y2="894.65" stroke="#222" stroke-width="0.8"/>
<line x1="1088.60" y1="891.65" x2="1088.60" y2="894.65" stroke="#222" stroke-width="0.8"/>
<text x="850.8" y="904.9" font-size="9.7" text-anchor="middle" fill="#111">67</text>
<line x1="881.30" y1="891.65" x2="881.30" y2="894.65" stroke="#222" stroke-width="0.8"/>
<line x1="1119.10" y1="891.65" x2="1119.10" y2="894.65" stroke="#222" stroke-width="0.8"/>
<text x="881.3" y="904.9" font-size="9.7" text-anchor="middle" fill="#111">68</text>
<line x1="911.80" y1="891.65" x2="911.80" y2="894.65" stroke="#222" stroke-width="0.8"/>
<line x1="1149.60" y1="891.65" x2="1149.60" y2="894.65" stroke="#222" stroke-width="0.8"/>
<text x="911.8" y="904.9" font-size="9.7" text-anchor="middle" fill="#111">69</text>
<text x="817.6" y="924.9" font-size="10.97" text-anchor="middle" fill="#111">6h old IR Data</text>
<text x="1055.0" y="924.9" font-size="10.97" text-anchor="middle" fill="#111">SHAP Value=-0.88 kts</text>
<svg x="717.5" y="929.2" width="200.5" height="200" viewBox="0 0 100 100" preserveAspectRatio="none"><g filter="url(#fIR)"><rect x="-30" y="-30" width="160" height="160" fill="rgb(129,129,129)"/><g filter="url(#pb6)"><ellipse cx="90" cy="25" rx="14" ry="12" fill="rgb(161,161,161)"/><ellipse cx="50" cy="18" rx="18" ry="3" transform="rotate(5 50 18)" fill="rgb(161,161,161)"/><path d="M72 18 L70 30 L72 50 L70 70" fill="none" stroke="rgb(161,161,161)" stroke-width="4" stroke-linecap="round" stroke-linejoin="round"/><ellipse cx="50" cy="82" rx="14" ry="4" fill="rgb(153,153,153)"/><ellipse cx="68" cy="85" rx="5" ry="5" fill="rgb(153,153,153)"/><ellipse cx="10" cy="5" rx="16" ry="8" fill="rgb(110,110,110)"/><ellipse cx="45" cy="93" rx="8" ry="4" transform="rotate(-30 45 93)" fill="rgb(90,90,90)"/><ellipse cx="100" cy="98" rx="6" ry="6" fill="rgb(71,71,71)"/></g><g filter="url(#pb3)"><path d="M33 -10 L32 6 L36 12 L45 12 L52 14 L70 16 L80 9 L110 7 L110 -10 Z" fill="rgb(222,222,222)"/><path d="M70 23 L79 38 L83 56 L78 72" fill="none" stroke="rgb(210,210,210)" stroke-width="7" stroke-linecap="round" stroke-linejoin="round"/><ellipse cx="76" cy="74" rx="4" ry="6" fill="rgb(204,204,204)"/><ellipse cx="28" cy="6" rx="3" ry="4" fill="rgb(196,196,196)"/></g><g filter="url(#pb4)"><path d="M-10 9 L20 9 L28 17 L30 30 L45 27 L63 32 L72 48 L71 67 L60 78 L40 80 L30 73 L20 76 L28 90 L30 110 L-10 110 Z" fill="rgb(102,102,102)"/></g><g filter="url(#pb3)"><path d="M-10 13 L19 13 L26 22 L25 34 L18 46 L18 62 L9 71 L-10 71 Z" fill="rgb(73,73,73)"/><path d="M22 40 L31 32 L45 30 L61 34 L69 48 L68 65 L58 75 L42 77 L29 69 L22 55 Z" fill="rgb(67,67,67)"/><path d="M-10 76 L14 76 L26 86 L30 100 L-10 104 Z" fill="rgb(55,55,55)"/><ellipse cx="14" cy="30" rx="5.5" ry="5.5" fill="rgb(41,41,41)"/><ellipse cx="2" cy="72" rx="2" ry="2" fill="rgb(47,47,47)"/><ellipse cx="54" cy="56" rx="14.5" ry="15" fill="rgb(55,55,55)"/></g><g filter="url(#pb1.5)"><ellipse cx="53" cy="56" rx="11.5" ry="12.5" fill="rgb(25,25,25)" stroke="rgb(34,34,34)" stroke-width="2"/><ellipse cx="3" cy="58" rx="5.5" ry="6.5" fill="rgb(29,29,29)" stroke="rgb(34,34,34)" stroke-width="2"/><ellipse cx="26" cy="18" rx="2.6" ry="4" fill="rgb(26,26,26)" stroke="rgb(34,34,34)" stroke-width="2"/><ellipse cx="46" cy="8" rx="4.5" ry="2.6" transform="rotate(-15 46 8)" fill="rgb(51,51,51)"/><ellipse cx="31" cy="44" rx="2.2" ry="1.6" fill="rgb(33,33,33)"/><ellipse cx="22" cy="93" rx="3.5" ry="2" fill="rgb(33,33,33)"/></g><g filter="url(#pb0.8)"><ellipse cx="48" cy="56" rx="2.5" ry="1.5" transform="rotate(20 48 56)" fill="rgb(12,12,12)"/><ellipse cx="52" cy="50" rx="1" ry="1" fill="rgb(14,14,14)"/></g></g></svg>
<svg x="955.3" y="929.2" width="200.5" height="200" viewBox="0 0 100 100" preserveAspectRatio="none"><g filter="url(#fSH2)"><rect x="-20" y="-20" width="140" height="140" fill="rgb(5,128,0)"/><ellipse cx="54" cy="56" rx="17" ry="17" fill="rgb(20,128,0)" filter="url(#pb7)"/><ellipse cx="54" cy="58" rx="9" ry="9" fill="rgb(41,131,0)" filter="url(#pb4)"/></g><ellipse cx="48.5" cy="49" rx="1.8" ry="1.5" transform="rotate(10 48.5 49)" fill="#1010d0" opacity="0.95" filter="url(#pb0.5)"/><ellipse cx="57" cy="54" rx="1.4" ry="1.6" fill="#6a6aff" opacity="0.6" filter="url(#pb0.6)"/><ellipse cx="45" cy="58" rx="1.8" ry="0.8" fill="#7a7aff" opacity="0.5" filter="url(#pb0.6)"/><ellipse cx="52" cy="63" rx="1.2" ry="2" fill="#8a8aff" opacity="0.5" filter="url(#pb0.6)"/><ellipse cx="55" cy="63" rx="1.2" ry="2" transform="rotate(10 55 63)" fill="#ff7a7a" opacity="0.5" filter="url(#pb0.6)"/><ellipse cx="1" cy="30" rx="1" ry="10" fill="#ffc0c0" opacity="0.5" filter="url(#pb1)"/></svg>
<rect x="717.50" y="929.20" width="200.50" height="200.00" fill="none" stroke="#222" stroke-width="0.9"/>
<rect x="955.30" y="929.20" width="200.50" height="200.00" fill="none" stroke="#444" stroke-width="0.9"/>
<line x1="714.50" y1="954.20" x2="717.50" y2="954.20" stroke="#222" stroke-width="0.8"/>
<line x1="952.30" y1="954.20" x2="955.30" y2="954.20" stroke="#222" stroke-width="0.8"/>
<text x="712.2" y="957.8" font-size="9.7" text-anchor="end" fill="#111">16</text>
<line x1="714.50" y1="985.64" x2="717.50" y2="985.64" stroke="#222" stroke-width="0.8"/>
<line x1="952.30" y1="985.64" x2="955.30" y2="985.64" stroke="#222" stroke-width="0.8"/>
<text x="712.2" y="989.2" font-size="9.7" text-anchor="end" fill="#111">15</text>
<line x1="714.50" y1="1017.08" x2="717.50" y2="1017.08" stroke="#222" stroke-width="0.8"/>
<line x1="952.30" y1="1017.08" x2="955.30" y2="1017.08" stroke="#222" stroke-width="0.8"/>
<text x="712.2" y="1020.7" font-size="9.7" text-anchor="end" fill="#111">14</text>
<line x1="714.50" y1="1048.52" x2="717.50" y2="1048.52" stroke="#222" stroke-width="0.8"/>
<line x1="952.30" y1="1048.52" x2="955.30" y2="1048.52" stroke="#222" stroke-width="0.8"/>
<text x="712.2" y="1052.1" font-size="9.7" text-anchor="end" fill="#111">13</text>
<line x1="714.50" y1="1079.96" x2="717.50" y2="1079.96" stroke="#222" stroke-width="0.8"/>
<line x1="952.30" y1="1079.96" x2="955.30" y2="1079.96" stroke="#222" stroke-width="0.8"/>
<text x="712.2" y="1083.6" font-size="9.7" text-anchor="end" fill="#111">12</text>
<line x1="714.50" y1="1111.40" x2="717.50" y2="1111.40" stroke="#222" stroke-width="0.8"/>
<line x1="952.30" y1="1111.40" x2="955.30" y2="1111.40" stroke="#222" stroke-width="0.8"/>
<text x="712.2" y="1115.0" font-size="9.7" text-anchor="end" fill="#111">11</text>
<line x1="726.10" y1="1129.20" x2="726.10" y2="1132.20" stroke="#222" stroke-width="0.8"/>
<line x1="963.90" y1="1129.20" x2="963.90" y2="1132.20" stroke="#222" stroke-width="0.8"/>
<text x="726.1" y="1142.4" font-size="9.7" text-anchor="middle" fill="#111">63</text>
<line x1="756.60" y1="1129.20" x2="756.60" y2="1132.20" stroke="#222" stroke-width="0.8"/>
<line x1="994.40" y1="1129.20" x2="994.40" y2="1132.20" stroke="#222" stroke-width="0.8"/>
<text x="756.6" y="1142.4" font-size="9.7" text-anchor="middle" fill="#111">64</text>
<line x1="787.10" y1="1129.20" x2="787.10" y2="1132.20" stroke="#222" stroke-width="0.8"/>
<line x1="1024.90" y1="1129.20" x2="1024.90" y2="1132.20" stroke="#222" stroke-width="0.8"/>
<text x="787.1" y="1142.4" font-size="9.7" text-anchor="middle" fill="#111">65</text>
<line x1="817.60" y1="1129.20" x2="817.60" y2="1132.20" stroke="#222" stroke-width="0.8"/>
<line x1="1055.40" y1="1129.20" x2="1055.40" y2="1132.20" stroke="#222" stroke-width="0.8"/>
<text x="817.6" y="1142.4" font-size="9.7" text-anchor="middle" fill="#111">66</text>
<line x1="848.10" y1="1129.20" x2="848.10" y2="1132.20" stroke="#222" stroke-width="0.8"/>
<line x1="1085.90" y1="1129.20" x2="1085.90" y2="1132.20" stroke="#222" stroke-width="0.8"/>
<text x="848.1" y="1142.4" font-size="9.7" text-anchor="middle" fill="#111">67</text>
<line x1="878.60" y1="1129.20" x2="878.60" y2="1132.20" stroke="#222" stroke-width="0.8"/>
<line x1="1116.40" y1="1129.20" x2="1116.40" y2="1132.20" stroke="#222" stroke-width="0.8"/>
<text x="878.6" y="1142.4" font-size="9.7" text-anchor="middle" fill="#111">68</text>
<line x1="909.10" y1="1129.20" x2="909.10" y2="1132.20" stroke="#222" stroke-width="0.8"/>
<line x1="1146.90" y1="1129.20" x2="1146.90" y2="1132.20" stroke="#222" stroke-width="0.8"/>
<text x="909.1" y="1142.4" font-size="9.7" text-anchor="middle" fill="#111">69</text>
<text x="817.6" y="1162.5" font-size="10.97" text-anchor="middle" fill="#111">9h old IR Data</text>
<text x="1055.0" y="1162.5" font-size="10.97" text-anchor="middle" fill="#111">SHAP Value=-0.90 kts</text>
<svg x="717.5" y="1166.75" width="200.5" height="200" viewBox="0 0 100 100" preserveAspectRatio="none"><g filter="url(#fIR)"><rect x="-30" y="-30" width="160" height="160" fill="rgb(129,129,129)"/><g filter="url(#pb6)"><path d="M70 44 L72 66" fill="none" stroke="rgb(161,161,161)" stroke-width="4" stroke-linecap="round" stroke-linejoin="round"/><ellipse cx="92" cy="4" rx="8" ry="5" fill="rgb(169,169,169)"/><ellipse cx="25" cy="92" rx="8" ry="1.8" transform="rotate(-8 25 92)" fill="rgb(161,161,161)"/><ellipse cx="5" cy="3" rx="8" ry="5" fill="rgb(118,118,118)"/><ellipse cx="10" cy="92" rx="14" ry="8" fill="rgb(106,106,106)"/></g><g filter="url(#pb3)"><path d="M48 0 L39 18 L30 34 L25 42" fill="none" stroke="rgb(173,173,173)" stroke-width="9" stroke-linecap="round" stroke-linejoin="round"/><ellipse cx="56" cy="14" rx="15" ry="12" fill="rgb(153,153,153)"/><ellipse cx="66" cy="31" rx="5" ry="10" transform="rotate(-30 66 31)" fill="rgb(161,161,161)"/><path d="M64 -10 L66 14 L64 22 L68 32 L73 42 L75 62 L84 66 L86 50 L110 44 L110 -10 Z" fill="rgb(218,218,218)"/><ellipse cx="54" cy="5" rx="3" ry="2" fill="rgb(196,196,196)"/><ellipse cx="52" cy="16" rx="3" ry="2" fill="rgb(192,192,192)"/><ellipse cx="95" cy="58" rx="7" ry="12" transform="rotate(10 95 58)" fill="rgb(129,129,129)"/><ellipse cx="84" cy="56" rx="2" ry="8" fill="rgb(161,161,161)"/></g><g filter="url(#pb4)"><path d="M-10 4 L36 2 L33 16 L26 30 L21 44 L27 44 L34 33 L42 25 L52 21 L64 28 L72 44 L72 64 L62 73 L36 76 L24 84 L-10 88 Z" fill="rgb(102,102,102)"/><ellipse cx="89" cy="94" rx="17" ry="14" fill="rgb(90,90,90)"/><ellipse cx="54" cy="98" rx="15" ry="10" fill="rgb(90,90,90)"/></g><g filter="url(#pb3)"><path d="M-10 8 L33 5 L31 18 L24 32 L20 46 L28 42 L37 31 L50 25 L62 31 L69 45 L69 62 L60 70 L36 72 L22 80 L-10 84 Z" fill="rgb(73,73,73)"/><ellipse cx="30" cy="58" rx="10" ry="10" fill="rgb(82,82,82)"/><path d="M8 62 L30 50" fill="none" stroke="rgb(98,98,98)" stroke-width="3" stroke-linecap="round" stroke-linejoin="round"/><ellipse cx="90" cy="95" rx="14" ry="10" fill="rgb(61,61,61)"/><ellipse cx="54" cy="98" rx="11" ry="7" fill="rgb(67,67,67)"/></g><g filter="url(#pb2.5)"><path d="M-10 12 L29 10 L28 22 L21 38 L14 47 L-10 44 Z" fill="rgb(49,49,49)"/><ellipse cx="54" cy="52" rx="16.5" ry="18" fill="rgb(55,55,55)"/><path d="M-10 68 L10 68 L22 74 L20 82 L-10 84 Z" fill="rgb(47,47,47)"/></g><g filter="url(#pb1.5)"><ellipse cx="54.5" cy="52" rx="12" ry="14" transform="rotate(5 54.5 52)" fill="rgb(25,25,25)" stroke="rgb(34,34,34)" stroke-width="2"/><ellipse cx="58" cy="80" rx="6" ry="3" transform="rotate(-30 58 80)" fill="rgb(206,206,206)"/><ellipse cx="11" cy="25" rx="11" ry="8" fill="rgb(29,29,29)" stroke="rgb(34,34,34)" stroke-width="2"/><ellipse cx="12" cy="38" rx="7" ry="7" fill="rgb(25,25,25)" stroke="rgb(34,34,34)" stroke-width="2"/><ellipse cx="1" cy="60" rx="3" ry="3.5" fill="rgb(31,31,31)"/></g><g filter="url(#pb0.8)"><ellipse cx="50" cy="50" rx="1.5" ry="2.2" fill="rgb(12,12,12)"/><ellipse cx="48" cy="54" rx="2" ry="1" fill="rgb(12,12,12)"/><ellipse cx="56" cy="55" rx="1" ry="1.8" fill="rgb(12,12,12)"/><ellipse cx="18" cy="25" rx="1" ry="1.5" fill="rgb(12,12,12)"/><ellipse cx="13" cy="41" rx="1.2" ry="0.9" fill="rgb(12,12,12)"/></g></g></svg>
<svg x="955.3" y="1166.75" width="200.5" height="200" viewBox="0 0 100 100" preserveAspectRatio="none"><g filter="url(#fSH3)"><rect x="-20" y="-20" width="140" height="140" fill="rgb(6,128,0)"/><ellipse cx="54" cy="56" rx="19" ry="19" fill="rgb(22,128,0)" filter="url(#pb7)"/><ellipse cx="53" cy="56" rx="9" ry="9" fill="rgb(41,131,0)" filter="url(#pb4)"/></g><ellipse cx="48.5" cy="49" rx="1.5" ry="1.8" transform="rotate(-30 48.5 49)" fill="#0808c0" opacity="1" filter="url(#pb0.5)"/><ellipse cx="57" cy="54" rx="1.5" ry="1.2" transform="rotate(30 57 54)" fill="#8a8aff" opacity="0.55" filter="url(#pb0.6)"/><ellipse cx="58" cy="42" rx="2.2" ry="0.9" transform="rotate(10 58 42)" fill="#ff8a8a" opacity="0.5" filter="url(#pb0.6)"/><ellipse cx="51" cy="60" rx="2" ry="1" transform="rotate(10 51 60)" fill="#ff8a8a" opacity="0.5" filter="url(#pb0.6)"/><ellipse cx="56" cy="63" rx="1.2" ry="1.6" fill="#ff7a7a" opacity="0.5" filter="url(#pb0.6)"/><ellipse cx="1" cy="40" rx="1" ry="14" fill="#c0c0ff" opacity="0.4" filter="url(#pb1)"/></svg>
<rect x="717.50" y="1166.75" width="200.50" height="200.00" fill="none" stroke="#222" stroke-width="0.9"/>
<rect x="955.30" y="1166.75" width="200.50" height="200.00" fill="none" stroke="#444" stroke-width="0.9"/>
<line x1="714.50" y1="1185.70" x2="717.50" y2="1185.70" stroke="#222" stroke-width="0.8"/>
<line x1="952.30" y1="1185.70" x2="955.30" y2="1185.70" stroke="#222" stroke-width="0.8"/>
<text x="712.2" y="1189.3" font-size="9.7" text-anchor="end" fill="#111">16</text>
<line x1="714.50" y1="1217.08" x2="717.50" y2="1217.08" stroke="#222" stroke-width="0.8"/>
<line x1="952.30" y1="1217.08" x2="955.30" y2="1217.08" stroke="#222" stroke-width="0.8"/>
<text x="712.2" y="1220.7" font-size="9.7" text-anchor="end" fill="#111">15</text>
<line x1="714.50" y1="1248.46" x2="717.50" y2="1248.46" stroke="#222" stroke-width="0.8"/>
<line x1="952.30" y1="1248.46" x2="955.30" y2="1248.46" stroke="#222" stroke-width="0.8"/>
<text x="712.2" y="1252.1" font-size="9.7" text-anchor="end" fill="#111">14</text>
<line x1="714.50" y1="1279.84" x2="717.50" y2="1279.84" stroke="#222" stroke-width="0.8"/>
<line x1="952.30" y1="1279.84" x2="955.30" y2="1279.84" stroke="#222" stroke-width="0.8"/>
<text x="712.2" y="1283.4" font-size="9.7" text-anchor="end" fill="#111">13</text>
<line x1="714.50" y1="1311.22" x2="717.50" y2="1311.22" stroke="#222" stroke-width="0.8"/>
<line x1="952.30" y1="1311.22" x2="955.30" y2="1311.22" stroke="#222" stroke-width="0.8"/>
<text x="712.2" y="1314.8" font-size="9.7" text-anchor="end" fill="#111">12</text>
<line x1="714.50" y1="1342.60" x2="717.50" y2="1342.60" stroke="#222" stroke-width="0.8"/>
<line x1="952.30" y1="1342.60" x2="955.30" y2="1342.60" stroke="#222" stroke-width="0.8"/>
<text x="712.2" y="1346.2" font-size="9.7" text-anchor="end" fill="#111">11</text>
<line x1="723.20" y1="1366.75" x2="723.20" y2="1369.75" stroke="#222" stroke-width="0.8"/>
<line x1="961.00" y1="1366.75" x2="961.00" y2="1369.75" stroke="#222" stroke-width="0.8"/>
<text x="723.2" y="1380.0" font-size="9.7" text-anchor="middle" fill="#111">63</text>
<line x1="753.68" y1="1366.75" x2="753.68" y2="1369.75" stroke="#222" stroke-width="0.8"/>
<line x1="991.48" y1="1366.75" x2="991.48" y2="1369.75" stroke="#222" stroke-width="0.8"/>
<text x="753.7" y="1380.0" font-size="9.7" text-anchor="middle" fill="#111">64</text>
<line x1="784.17" y1="1366.75" x2="784.17" y2="1369.75" stroke="#222" stroke-width="0.8"/>
<line x1="1021.97" y1="1366.75" x2="1021.97" y2="1369.75" stroke="#222" stroke-width="0.8"/>
<text x="784.2" y="1380.0" font-size="9.7" text-anchor="middle" fill="#111">65</text>
<line x1="814.65" y1="1366.75" x2="814.65" y2="1369.75" stroke="#222" stroke-width="0.8"/>
<line x1="1052.45" y1="1366.75" x2="1052.45" y2="1369.75" stroke="#222" stroke-width="0.8"/>
<text x="814.7" y="1380.0" font-size="9.7" text-anchor="middle" fill="#111">66</text>
<line x1="845.13" y1="1366.75" x2="845.13" y2="1369.75" stroke="#222" stroke-width="0.8"/>
<line x1="1082.93" y1="1366.75" x2="1082.93" y2="1369.75" stroke="#222" stroke-width="0.8"/>
<text x="845.1" y="1380.0" font-size="9.7" text-anchor="middle" fill="#111">67</text>
<line x1="875.62" y1="1366.75" x2="875.62" y2="1369.75" stroke="#222" stroke-width="0.8"/>
<line x1="1113.42" y1="1366.75" x2="1113.42" y2="1369.75" stroke="#222" stroke-width="0.8"/>
<text x="875.6" y="1380.0" font-size="9.7" text-anchor="middle" fill="#111">68</text>
<line x1="906.10" y1="1366.75" x2="906.10" y2="1369.75" stroke="#222" stroke-width="0.8"/>
<line x1="1143.90" y1="1366.75" x2="1143.90" y2="1369.75" stroke="#222" stroke-width="0.8"/>
<text x="906.1" y="1380.0" font-size="9.7" text-anchor="middle" fill="#111">69</text>
<text x="817.6" y="1400.0" font-size="10.97" text-anchor="middle" fill="#111">12h old IR Data</text>
<text x="1055.0" y="1400.0" font-size="10.97" text-anchor="middle" fill="#111">SHAP Value=-3.14 kts</text>
<svg x="717.5" y="1404.3000000000002" width="200.5" height="200" viewBox="0 0 100 100" preserveAspectRatio="none"><g filter="url(#fIR)"><rect x="-30" y="-30" width="160" height="160" fill="rgb(129,129,129)"/><g filter="url(#pb6)"><ellipse cx="90" cy="68" rx="10" ry="6" transform="rotate(-20 90 68)" fill="rgb(161,161,161)"/><ellipse cx="74" cy="64" rx="8" ry="12" fill="rgb(114,114,114)"/><ellipse cx="28" cy="78" rx="36" ry="12" transform="rotate(-8 28 78)" fill="rgb(102,102,102)"/><ellipse cx="10" cy="4" rx="14" ry="4" fill="rgb(126,126,126)"/><ellipse cx="62" cy="86" rx="8" ry="5" fill="rgb(90,90,90)"/><ellipse cx="75" cy="60" rx="3" ry="6" fill="rgb(82,82,82)"/></g><g filter="url(#pb3)"><path d="M60 -2 L55 18 L53 30 L62 36 L67 50 L69 68 L61 78" fill="none" stroke="rgb(157,157,157)" stroke-width="10" stroke-linecap="round" stroke-linejoin="round"/><path d="M62 -10 L64 12 L62 18 L70 30 L72 45 L80 60 L88 63 L110 50 L110 -10 Z" fill="rgb(220,220,220)"/><ellipse cx="52" cy="28" rx="3" ry="2.5" fill="rgb(200,200,200)"/><ellipse cx="88" cy="22" rx="3" ry="3" fill="rgb(141,141,141)"/></g><g filter="url(#pb4)"><path d="M-10 6 L20 4 L45 0 L62 2 L58 12 L46 22 L40 34 L26 44 L34 40 L50 34 L60 40 L62 58 L54 66 L44 68 L-10 70 Z" fill="rgb(98,98,98)"/><path d="M-10 62 L50 62 L58 70 L50 84 L30 90 L-10 92 Z" fill="rgb(100,100,100)"/><path d="M-10 90 L40 86 L62 92 L62 110 L-10 110 Z" fill="rgb(90,90,90)"/><ellipse cx="94" cy="84" rx="12" ry="14" fill="rgb(90,90,90)"/></g><g filter="url(#pb3)"><path d="M-10 10 L20 8 L45 4 L60 5 L54 13 L42 19 L38 30 L20 44 L36 42 L50 37 L58 42 L60 56 L52 63 L40 62 L30 66 L-10 64 Z" fill="rgb(71,71,71)"/><path d="M24 44 L40 28 L56 10" fill="none" stroke="rgb(114,114,114)" stroke-width="3.5" stroke-linecap="round" stroke-linejoin="round"/><path d="M-10 93 L38 90 L36 104 L-10 104 Z" fill="rgb(59,59,59)"/><ellipse cx="54" cy="96" rx="7" ry="4" fill="rgb(63,63,63)"/><ellipse cx="94" cy="85" rx="9" ry="11" fill="rgb(55,55,55)"/></g><g filter="url(#pb2)"><path d="M-10 12 L20 9 L45 5 L56 6 L50 12 L38 17 L37 24 L-10 26 Z" fill="rgb(47,47,47)"/><ellipse cx="46" cy="51" rx="15" ry="12" transform="rotate(10 46 51)" fill="rgb(49,49,49)"/></g><g filter="url(#pb1.5)"><path d="M-10 22 L15 20 L27 14 L36 15 L35 22 L32 29 L27 34 L20 33 L13 41 L4 43 L-10 41 Z" fill="rgb(25,25,25)" stroke="rgb(34,34,34)" stroke-width="2" stroke-linejoin="round"/><ellipse cx="52.5" cy="50.5" rx="11" ry="12" fill="rgb(37,37,37)"/><ellipse cx="53.5" cy="50" rx="4.6" ry="4.6" fill="rgb(22,22,22)"/><ellipse cx="44" cy="9" rx="3" ry="2" transform="rotate(-20 44 9)" fill="rgb(33,33,33)"/><ellipse cx="93" cy="90" rx="3.5" ry="3" fill="rgb(31,31,31)"/></g><g filter="url(#pb0.8)"><ellipse cx="28" cy="24" rx="3" ry="3.5" fill="rgb(10,10,10)"/><ellipse cx="22" cy="30" rx="3" ry="1.3" transform="rotate(35 22 30)" fill="rgb(10,10,10)"/><ellipse cx="51" cy="51" rx="3" ry="1.6" transform="rotate(-20 51 51)" fill="rgb(10,10,10)"/><ellipse cx="93" cy="92" rx="0.8" ry="0.6" fill="rgb(12,12,12)"/></g></g></svg>
<svg x="955.3" y="1404.3000000000002" width="200.5" height="200" viewBox="0 0 100 100" preserveAspectRatio="none"><g filter="url(#fSH4)"><rect x="-20" y="-20" width="140" height="140" fill="rgb(12,128,0)"/><ellipse cx="54" cy="50" rx="20" ry="22" fill="rgb(31,128,0)" filter="url(#pb7)"/><ellipse cx="56" cy="50" rx="10" ry="12" fill="rgb(56,131,0)" filter="url(#pb4)"/></g><ellipse cx="48.5" cy="49" rx="1.7" ry="1.5" transform="rotate(30 48.5 49)" fill="#0808c0" opacity="1" filter="url(#pb0.5)"/><ellipse cx="51" cy="28" rx="1.2" ry="3" transform="rotate(25 51 28)" fill="#3a3aff" opacity="0.8" filter="url(#pb0.6)"/><ellipse cx="67" cy="50" rx="1.5" ry="1.2" transform="rotate(-30 67 50)" fill="#2a2ae0" opacity="0.8" filter="url(#pb0.6)"/><ellipse cx="64" cy="42" rx="1.4" ry="2" transform="rotate(-20 64 42)" fill="#ff3a3a" opacity="0.75" filter="url(#pb0.6)"/><ellipse cx="65" cy="54" rx="1.2" ry="1.2" fill="#ff2a2a" opacity="0.8" filter="url(#pb0.6)"/><ellipse cx="58" cy="32" rx="1" ry="2" transform="rotate(-20 58 32)" fill="#ff6a6a" opacity="0.6" filter="url(#pb0.6)"/><ellipse cx="47" cy="68" rx="1" ry="3" transform="rotate(25 47 68)" fill="#6a6aff" opacity="0.6" filter="url(#pb0.6)"/><ellipse cx="58" cy="76" rx="1.6" ry="1.2" fill="#8a8aff" opacity="0.55" filter="url(#pb0.6)"/><ellipse cx="73" cy="96" rx="0.8" ry="2.5" fill="#8a8aff" opacity="0.5" filter="url(#pb0.6)"/><ellipse cx="50" cy="60" rx="2" ry="1" transform="rotate(-10 50 60)" fill="#ff6a6a" opacity="0.55" filter="url(#pb0.6)"/></svg>
<rect x="717.50" y="1404.30" width="200.50" height="200.00" fill="none" stroke="#222" stroke-width="0.9"/>
<rect x="955.30" y="1404.30" width="200.50" height="200.00" fill="none" stroke="#444" stroke-width="0.9"/>
<line x1="714.50" y1="1417.00" x2="717.50" y2="1417.00" stroke="#222" stroke-width="0.8"/>
<line x1="952.30" y1="1417.00" x2="955.30" y2="1417.00" stroke="#222" stroke-width="0.8"/>
<text x="712.2" y="1420.6" font-size="9.7" text-anchor="end" fill="#111">16</text>
<line x1="714.50" y1="1448.32" x2="717.50" y2="1448.32" stroke="#222" stroke-width="0.8"/>
<line x1="952.30" y1="1448.32" x2="955.30" y2="1448.32" stroke="#222" stroke-width="0.8"/>
<text x="712.2" y="1451.9" font-size="9.7" text-anchor="end" fill="#111">15</text>
<line x1="714.50" y1="1479.64" x2="717.50" y2="1479.64" stroke="#222" stroke-width="0.8"/>
<line x1="952.30" y1="1479.64" x2="955.30" y2="1479.64" stroke="#222" stroke-width="0.8"/>
<text x="712.2" y="1483.2" font-size="9.7" text-anchor="end" fill="#111">14</text>
<line x1="714.50" y1="1510.96" x2="717.50" y2="1510.96" stroke="#222" stroke-width="0.8"/>
<line x1="952.30" y1="1510.96" x2="955.30" y2="1510.96" stroke="#222" stroke-width="0.8"/>
<text x="712.2" y="1514.6" font-size="9.7" text-anchor="end" fill="#111">13</text>
<line x1="714.50" y1="1542.28" x2="717.50" y2="1542.28" stroke="#222" stroke-width="0.8"/>
<line x1="952.30" y1="1542.28" x2="955.30" y2="1542.28" stroke="#222" stroke-width="0.8"/>
<text x="712.2" y="1545.9" font-size="9.7" text-anchor="end" fill="#111">12</text>
<line x1="714.50" y1="1573.60" x2="717.50" y2="1573.60" stroke="#222" stroke-width="0.8"/>
<line x1="952.30" y1="1573.60" x2="955.30" y2="1573.60" stroke="#222" stroke-width="0.8"/>
<text x="712.2" y="1577.2" font-size="9.7" text-anchor="end" fill="#111">11</text>
<line x1="719.90" y1="1604.30" x2="719.90" y2="1607.30" stroke="#222" stroke-width="0.8"/>
<line x1="957.70" y1="1604.30" x2="957.70" y2="1607.30" stroke="#222" stroke-width="0.8"/>
<text x="719.9" y="1617.5" font-size="9.7" text-anchor="middle" fill="#111">63</text>
<line x1="750.45" y1="1604.30" x2="750.45" y2="1607.30" stroke="#222" stroke-width="0.8"/>
<line x1="988.25" y1="1604.30" x2="988.25" y2="1607.30" stroke="#222" stroke-width="0.8"/>
<text x="750.5" y="1617.5" font-size="9.7" text-anchor="middle" fill="#111">64</text>
<line x1="781.00" y1="1604.30" x2="781.00" y2="1607.30" stroke="#222" stroke-width="0.8"/>
<line x1="1018.80" y1="1604.30" x2="1018.80" y2="1607.30" stroke="#222" stroke-width="0.8"/>
<text x="781.0" y="1617.5" font-size="9.7" text-anchor="middle" fill="#111">65</text>
<line x1="811.55" y1="1604.30" x2="811.55" y2="1607.30" stroke="#222" stroke-width="0.8"/>
<line x1="1049.35" y1="1604.30" x2="1049.35" y2="1607.30" stroke="#222" stroke-width="0.8"/>
<text x="811.5" y="1617.5" font-size="9.7" text-anchor="middle" fill="#111">66</text>
<line x1="842.10" y1="1604.30" x2="842.10" y2="1607.30" stroke="#222" stroke-width="0.8"/>
<line x1="1079.90" y1="1604.30" x2="1079.90" y2="1607.30" stroke="#222" stroke-width="0.8"/>
<text x="842.1" y="1617.5" font-size="9.7" text-anchor="middle" fill="#111">67</text>
<line x1="872.65" y1="1604.30" x2="872.65" y2="1607.30" stroke="#222" stroke-width="0.8"/>
<line x1="1110.45" y1="1604.30" x2="1110.45" y2="1607.30" stroke="#222" stroke-width="0.8"/>
<text x="872.7" y="1617.5" font-size="9.7" text-anchor="middle" fill="#111">68</text>
<line x1="903.20" y1="1604.30" x2="903.20" y2="1607.30" stroke="#222" stroke-width="0.8"/>
<line x1="1141.00" y1="1604.30" x2="1141.00" y2="1607.30" stroke="#222" stroke-width="0.8"/>
<text x="903.2" y="1617.5" font-size="9.7" text-anchor="middle" fill="#111">69</text>
<text x="817.7" y="1637.8" font-size="9.7" text-anchor="middle" fill="#111">Brightness Temperature [K]</text>
<rect x="717.40" y="1641.80" width="200.70" height="12.40" fill="url(#gIR)" stroke="#333" stroke-width="0.6"/>
<line x1="717.40" y1="1654.20" x2="717.40" y2="1656.20" stroke="#333" stroke-width="0.6"/>
<text x="717.4" y="1664.6" font-size="6.7" text-anchor="middle" fill="#222">180</text>
<line x1="748.28" y1="1654.20" x2="748.28" y2="1656.20" stroke="#333" stroke-width="0.6"/>
<text x="748.3" y="1664.6" font-size="6.7" text-anchor="middle" fill="#222">200</text>
<line x1="779.15" y1="1654.20" x2="779.15" y2="1656.20" stroke="#333" stroke-width="0.6"/>
<text x="779.2" y="1664.6" font-size="6.7" text-anchor="middle" fill="#222">220</text>
<line x1="810.03" y1="1654.20" x2="810.03" y2="1656.20" stroke="#333" stroke-width="0.6"/>
<text x="810.0" y="1664.6" font-size="6.7" text-anchor="middle" fill="#222">240</text>
<line x1="840.91" y1="1654.20" x2="840.91" y2="1656.20" stroke="#333" stroke-width="0.6"/>
<text x="840.9" y="1664.6" font-size="6.7" text-anchor="middle" fill="#222">260</text>
<line x1="871.78" y1="1654.20" x2="871.78" y2="1656.20" stroke="#333" stroke-width="0.6"/>
<text x="871.8" y="1664.6" font-size="6.7" text-anchor="middle" fill="#222">280</text>
<line x1="902.66" y1="1654.20" x2="902.66" y2="1656.20" stroke="#333" stroke-width="0.6"/>
<text x="902.7" y="1664.6" font-size="6.7" text-anchor="middle" fill="#222">300</text>
<text x="1055.0" y="1637.8" font-size="9.7" text-anchor="middle" fill="#111">SHAP Values</text>
<rect x="954.90" y="1641.80" width="200.40" height="12.40" fill="url(#gSEIS)" stroke="#333" stroke-width="0.6"/>
<line x1="983.80" y1="1654.20" x2="983.80" y2="1657.20" stroke="#222" stroke-width="0.8"/>
<text x="979.9" y="1666.6" font-size="9.4" text-anchor="middle" fill="#111">−0.10</text>
<line x1="1021.50" y1="1654.20" x2="1021.50" y2="1657.20" stroke="#222" stroke-width="0.8"/>
<text x="1017.6" y="1666.6" font-size="9.4" text-anchor="middle" fill="#111">−0.05</text>
<line x1="1055.00" y1="1654.20" x2="1055.00" y2="1657.20" stroke="#222" stroke-width="0.8"/>
<text x="1055.0" y="1666.6" font-size="9.4" text-anchor="middle" fill="#111">0.00</text>
<line x1="1092.40" y1="1654.20" x2="1092.40" y2="1657.20" stroke="#222" stroke-width="0.8"/>
<text x="1092.4" y="1666.6" font-size="9.4" text-anchor="middle" fill="#111">0.05</text>
<line x1="1130.10" y1="1654.20" x2="1130.10" y2="1657.20" stroke="#222" stroke-width="0.8"/>
<text x="1130.1" y="1666.6" font-size="9.4" text-anchor="middle" fill="#111">0.10</text>
<svg x="322.4" y="140.2" width="137.5" height="138.2" viewBox="0 0 100 100" preserveAspectRatio="none"><g filter="url(#fJET)"><use href="#mw37"/></g></svg>
<rect x="322.40" y="140.20" width="137.50" height="138.20" fill="none" stroke="#000" stroke-width="1.1"/>
<svg x="503.4" y="140.2" width="137.5" height="138.2" viewBox="0 0 100 100" preserveAspectRatio="none"><g filter="url(#fJET)"><use href="#mw89"/></g></svg>
<rect x="503.40" y="140.20" width="137.50" height="138.20" fill="none" stroke="#000" stroke-width="1.1"/>
<text x="1405.0" y="431.5" font-size="11.13" text-anchor="middle" fill="#111">Comparison of MW SHAP Values for 2023_02A at 20230607 2112UTC</text>
<text x="1304.7" y="449.5" font-size="11.13" text-anchor="middle" fill="#111">37-GHz MW Data</text>
<text x="1542.3" y="449.5" font-size="11.13" text-anchor="middle" fill="#111">SHAP Value=-0.05 kts</text>
<svg x="1205.1" y="453.8" width="200.4" height="199.9" viewBox="0 0 100 100" preserveAspectRatio="none"><g filter="url(#fJET)"><use href="#mw37"/></g></svg>
<svg x="1442.7" y="453.8" width="200.4" height="199.9" viewBox="0 0 100 100" preserveAspectRatio="none"><g filter="url(#fSH5)"><rect x="-20" y="-20" width="140" height="140" fill="rgb(20,128,0)"/><ellipse cx="50" cy="28" rx="40" ry="14" fill="rgb(23,119,0)" filter="url(#pb8)"/><ellipse cx="20" cy="70" rx="26" ry="26" fill="rgb(20,134,0)" filter="url(#pb9)"/><ellipse cx="68" cy="30" rx="8" ry="4" fill="rgb(20,107,0)" filter="url(#pb4)"/><ellipse cx="38" cy="38" rx="5" ry="6" fill="rgb(20,112,0)" filter="url(#pb4)"/><ellipse cx="8" cy="24" rx="6" ry="5" fill="rgb(20,115,0)" filter="url(#pb4)"/><ellipse cx="3" cy="45" rx="3" ry="5" fill="rgb(20,112,0)" filter="url(#pb3)"/><ellipse cx="70" cy="96" rx="14" ry="3" fill="rgb(20,140,0)" filter="url(#pb3)"/></g><ellipse cx="41" cy="40" rx="2" ry="0.8" transform="rotate(-10 41 40)" fill="#ff4a4a" opacity="0.7" filter="url(#pb0.5)"/><ellipse cx="93" cy="92" rx="1.6" ry="1.2" fill="#ff7a7a" opacity="0.6" filter="url(#pb0.6)"/><ellipse cx="71" cy="63" rx="1.5" ry="1.5" fill="#ff9a9a" opacity="0.6" filter="url(#pb0.6)"/><ellipse cx="88" cy="25" rx="1" ry="1.5" fill="#ff9a9a" opacity="0.6" filter="url(#pb0.6)"/></svg>
<rect x="1205.10" y="453.80" width="200.40" height="199.90" fill="none" stroke="#222" stroke-width="0.9"/>
<rect x="1442.70" y="453.80" width="200.40" height="199.90" fill="none" stroke="#444" stroke-width="0.9"/>
<line x1="1439.70" y1="486.10" x2="1442.70" y2="486.10" stroke="#222" stroke-width="0.8"/>
<line x1="1202.10" y1="486.10" x2="1205.10" y2="486.10" stroke="#222" stroke-width="0.8"/>
<text x="1199.8" y="489.7" font-size="9.7" text-anchor="end" fill="#111">15</text>
<line x1="1439.70" y1="517.25" x2="1442.70" y2="517.25" stroke="#222" stroke-width="0.8"/>
<line x1="1439.70" y1="548.40" x2="1442.70" y2="548.40" stroke="#222" stroke-width="0.8"/>
<line x1="1202.10" y1="548.40" x2="1205.10" y2="548.40" stroke="#222" stroke-width="0.8"/>
<text x="1199.8" y="552.0" font-size="9.7" text-anchor="end" fill="#111">14</text>
<line x1="1439.70" y1="579.55" x2="1442.70" y2="579.55" stroke="#222" stroke-width="0.8"/>
<line x1="1439.70" y1="610.70" x2="1442.70" y2="610.70" stroke="#222" stroke-width="0.8"/>
<line x1="1202.10" y1="610.70" x2="1205.10" y2="610.70" stroke="#222" stroke-width="0.8"/>
<text x="1199.8" y="614.3" font-size="9.7" text-anchor="end" fill="#111">13</text>
<line x1="1439.70" y1="641.85" x2="1442.70" y2="641.85" stroke="#222" stroke-width="0.8"/>
<line x1="1463.70" y1="653.70" x2="1463.70" y2="656.70" stroke="#222" stroke-width="0.8"/>
<line x1="1494.06" y1="653.70" x2="1494.06" y2="656.70" stroke="#222" stroke-width="0.8"/>
<line x1="1524.42" y1="653.70" x2="1524.42" y2="656.70" stroke="#222" stroke-width="0.8"/>
<line x1="1554.78" y1="653.70" x2="1554.78" y2="656.70" stroke="#222" stroke-width="0.8"/>
<line x1="1585.14" y1="653.70" x2="1585.14" y2="656.70" stroke="#222" stroke-width="0.8"/>
<line x1="1615.50" y1="653.70" x2="1615.50" y2="656.70" stroke="#222" stroke-width="0.8"/>
<line x1="1256.20" y1="653.70" x2="1256.20" y2="656.70" stroke="#222" stroke-width="0.8"/>
<text x="1256.2" y="666.7" font-size="9.7" text-anchor="middle" fill="#111">65</text>
<line x1="1316.85" y1="653.70" x2="1316.85" y2="656.70" stroke="#222" stroke-width="0.8"/>
<text x="1316.9" y="666.7" font-size="9.7" text-anchor="middle" fill="#111">66</text>
<line x1="1377.50" y1="653.70" x2="1377.50" y2="656.70" stroke="#222" stroke-width="0.8"/>
<text x="1377.5" y="666.7" font-size="9.7" text-anchor="middle" fill="#111">67</text>
<text x="1304.7" y="679.5" font-size="9.7" text-anchor="middle" fill="#111">Brightness Temperature [K]</text>
<rect x="1205.10" y="683.20" width="200.40" height="12.40" fill="url(#gJET)" stroke="#333" stroke-width="0.6"/>
<line x1="1205.10" y1="695.60" x2="1205.10" y2="697.60" stroke="#333" stroke-width="0.6"/>
<text x="1205.1" y="705.7" font-size="6.7" text-anchor="middle" fill="#222">160</text>
<line x1="1238.50" y1="695.60" x2="1238.50" y2="697.60" stroke="#333" stroke-width="0.6"/>
<text x="1238.5" y="705.7" font-size="6.7" text-anchor="middle" fill="#222">180</text>
<line x1="1271.90" y1="695.60" x2="1271.90" y2="697.60" stroke="#333" stroke-width="0.6"/>
<text x="1271.9" y="705.7" font-size="6.7" text-anchor="middle" fill="#222">200</text>
<line x1="1305.30" y1="695.60" x2="1305.30" y2="697.60" stroke="#333" stroke-width="0.6"/>
<text x="1305.3" y="705.7" font-size="6.7" text-anchor="middle" fill="#222">220</text>
<line x1="1338.70" y1="695.60" x2="1338.70" y2="697.60" stroke="#333" stroke-width="0.6"/>
<text x="1338.7" y="705.7" font-size="6.7" text-anchor="middle" fill="#222">240</text>
<line x1="1372.10" y1="695.60" x2="1372.10" y2="697.60" stroke="#333" stroke-width="0.6"/>
<text x="1372.1" y="705.7" font-size="6.7" text-anchor="middle" fill="#222">260</text>
<line x1="1405.50" y1="695.60" x2="1405.50" y2="697.60" stroke="#333" stroke-width="0.6"/>
<text x="1405.5" y="705.7" font-size="6.7" text-anchor="middle" fill="#222">280</text>
<text x="1304.7" y="719.5" font-size="11.13" text-anchor="middle" fill="#111">89-GHz MW Data</text>
<text x="1542.3" y="719.5" font-size="11.13" text-anchor="middle" fill="#111">SHAP Value=-1.17 kts</text>
<svg x="1205.1" y="723.8" width="200.4" height="199.9" viewBox="0 0 100 100" preserveAspectRatio="none"><g filter="url(#fJET)"><use href="#mw89"/></g></svg>
<svg x="1442.7" y="723.8" width="200.4" height="199.9" viewBox="0 0 100 100" preserveAspectRatio="none"><g filter="url(#fSH6)"><rect x="-20" y="-20" width="140" height="140" fill="rgb(17,128,0)"/><ellipse cx="55" cy="45" rx="22" ry="16" fill="rgb(29,116,0)" filter="url(#pb8)"/><ellipse cx="30" cy="85" rx="30" ry="14" fill="rgb(41,134,0)" filter="url(#pb7)"/><ellipse cx="8" cy="55" rx="10" ry="30" fill="rgb(98,130,0)" filter="url(#pb4)"/><ellipse cx="45" cy="76" rx="22" ry="7" transform="rotate(10 45 76)" fill="rgb(48,139,0)" filter="url(#pb4)"/><ellipse cx="20" cy="12" rx="20" ry="8" fill="rgb(23,131,0)" filter="url(#pb6)"/></g><ellipse cx="7" cy="32" rx="3.5" ry="1.6" transform="rotate(-35 7 32)" fill="#c00000" opacity="0.95" filter="url(#pb0.5)"/><ellipse cx="3" cy="30" rx="1.8" ry="1.5" fill="#d00000" opacity="0.9" filter="url(#pb0.5)"/><ellipse cx="3.5" cy="34" rx="1.8" ry="1.3" transform="rotate(-30 3.5 34)" fill="#1010d0" opacity="0.9" filter="url(#pb0.5)"/><ellipse cx="17" cy="32" rx="2.2" ry="1.8" transform="rotate(-30 17 32)" fill="#e01010" opacity="0.9" filter="url(#pb0.6)"/><ellipse cx="13" cy="33" rx="1" ry="1.2" fill="#2020e0" opacity="0.8" filter="url(#pb0.5)"/><ellipse cx="6" cy="45" rx="2.5" ry="2" transform="rotate(20 6 45)" fill="#ff2a2a" opacity="0.8" filter="url(#pb0.6)"/><ellipse cx="2" cy="43" rx="1.5" ry="1.5" fill="#2020e0" opacity="0.85" filter="url(#pb0.5)"/><ellipse cx="9" cy="47" rx="1.5" ry="1.2" fill="#2a2aff" opacity="0.8" filter="url(#pb0.5)"/><ellipse cx="7" cy="54" rx="3.5" ry="2" transform="rotate(-40 7 54)" fill="#ff2a2a" opacity="0.8" filter="url(#pb0.7)"/><ellipse cx="12" cy="66" rx="4" ry="1.8" transform="rotate(-40 12 66)" fill="#e81010" opacity="0.9" filter="url(#pb0.6)"/><ellipse cx="9" cy="71" rx="1.6" ry="1.2" transform="rotate(-30 9 71)" fill="#1010d0" opacity="0.9" filter="url(#pb0.5)"/><ellipse cx="5" cy="63" rx="1.5" ry="1.2" fill="#2a2aff" opacity="0.8" filter="url(#pb0.5)"/><ellipse cx="10" cy="82" rx="6" ry="2" transform="rotate(20 10 82)" fill="#ff2a2a" opacity="0.8" filter="url(#pb0.8)"/><ellipse cx="5" cy="79" rx="1.8" ry="1.4" fill="#2a2aff" opacity="0.8" filter="url(#pb0.5)"/><ellipse cx="10" cy="98" rx="10" ry="1.5" transform="rotate(-5 10 98)" fill="#e01010" opacity="0.9" filter="url(#pb0.7)"/><ellipse cx="20" cy="92" rx="5" ry="1.5" transform="rotate(-10 20 92)" fill="#ff6a6a" opacity="0.7" filter="url(#pb0.8)"/><ellipse cx="44" cy="58" rx="1.6" ry="2.4" fill="#f01010" opacity="0.85" filter="url(#pb0.5)"/><ellipse cx="29" cy="75" rx="2.5" ry="1.8" fill="#ff3a3a" opacity="0.8" filter="url(#pb0.6)"/><ellipse cx="38" cy="72" rx="3.5" ry="2.5" transform="rotate(40 38 72)" fill="#f01010" opacity="0.85" filter="url(#pb0.7)"/><ellipse cx="35" cy="80" rx="2" ry="1.5" fill="#ff2a2a" opacity="0.8" filter="url(#pb0.6)"/><ellipse cx="52" cy="80" rx="6" ry="2" transform="rotate(10 52 80)" fill="#e81010" opacity="0.85" filter="url(#pb0.8)"/><ellipse cx="60" cy="78" rx="4" ry="1.8" transform="rotate(-25 60 78)" fill="#d80808" opacity="0.9" filter="url(#pb0.6)"/><ellipse cx="64" cy="73" rx="1.5" ry="2.5" transform="rotate(20 64 73)" fill="#c80000" opacity="0.95" filter="url(#pb0.5)"/><ellipse cx="67" cy="79" rx="1.5" ry="2" transform="rotate(30 67 79)" fill="#5a5aff" opacity="0.6" filter="url(#pb0.6)"/><ellipse cx="40" cy="86" rx="6" ry="1.6" transform="rotate(25 40 86)" fill="#ff5a5a" opacity="0.7" filter="url(#pb0.8)"/><ellipse cx="72" cy="64" rx="2" ry="1.5" fill="#ff8a8a" opacity="0.6" filter="url(#pb0.7)"/><ellipse cx="72" cy="18" rx="3" ry="1.5" fill="#ff9a9a" opacity="0.5" filter="url(#pb0.8)"/><ellipse cx="92" cy="45" rx="3" ry="2.5" fill="#aaaaff" opacity="0.6" filter="url(#pb0.8)"/></svg>
<rect x="1205.10" y="723.80" width="200.40" height="199.90" fill="none" stroke="#222" stroke-width="0.9"/>
<rect x="1442.70" y="723.80" width="200.40" height="199.90" fill="none" stroke="#444" stroke-width="0.9"/>
<line x1="1439.70" y1="756.10" x2="1442.70" y2="756.10" stroke="#222" stroke-width="0.8"/>
<line x1="1202.10" y1="756.10" x2="1205.10" y2="756.10" stroke="#222" stroke-width="0.8"/>
<text x="1199.8" y="759.7" font-size="9.7" text-anchor="end" fill="#111">15</text>
<line x1="1439.70" y1="787.25" x2="1442.70" y2="787.25" stroke="#222" stroke-width="0.8"/>
<line x1="1439.70" y1="818.40" x2="1442.70" y2="818.40" stroke="#222" stroke-width="0.8"/>
<line x1="1202.10" y1="818.40" x2="1205.10" y2="818.40" stroke="#222" stroke-width="0.8"/>
<text x="1199.8" y="822.0" font-size="9.7" text-anchor="end" fill="#111">14</text>
<line x1="1439.70" y1="849.55" x2="1442.70" y2="849.55" stroke="#222" stroke-width="0.8"/>
<line x1="1439.70" y1="880.70" x2="1442.70" y2="880.70" stroke="#222" stroke-width="0.8"/>
<line x1="1202.10" y1="880.70" x2="1205.10" y2="880.70" stroke="#222" stroke-width="0.8"/>
<text x="1199.8" y="884.3" font-size="9.7" text-anchor="end" fill="#111">13</text>
<line x1="1439.70" y1="911.85" x2="1442.70" y2="911.85" stroke="#222" stroke-width="0.8"/>
<line x1="1463.70" y1="923.70" x2="1463.70" y2="926.70" stroke="#222" stroke-width="0.8"/>
<line x1="1494.06" y1="923.70" x2="1494.06" y2="926.70" stroke="#222" stroke-width="0.8"/>
<line x1="1524.42" y1="923.70" x2="1524.42" y2="926.70" stroke="#222" stroke-width="0.8"/>
<line x1="1554.78" y1="923.70" x2="1554.78" y2="926.70" stroke="#222" stroke-width="0.8"/>
<line x1="1585.14" y1="923.70" x2="1585.14" y2="926.70" stroke="#222" stroke-width="0.8"/>
<line x1="1615.50" y1="923.70" x2="1615.50" y2="926.70" stroke="#222" stroke-width="0.8"/>
<line x1="1256.20" y1="923.70" x2="1256.20" y2="926.70" stroke="#222" stroke-width="0.8"/>
<text x="1256.2" y="936.7" font-size="9.7" text-anchor="middle" fill="#111">65</text>
<line x1="1316.85" y1="923.70" x2="1316.85" y2="926.70" stroke="#222" stroke-width="0.8"/>
<text x="1316.9" y="936.7" font-size="9.7" text-anchor="middle" fill="#111">66</text>
<line x1="1377.50" y1="923.70" x2="1377.50" y2="926.70" stroke="#222" stroke-width="0.8"/>
<text x="1377.5" y="936.7" font-size="9.7" text-anchor="middle" fill="#111">67</text>
<text x="1304.7" y="949.5" font-size="9.7" text-anchor="middle" fill="#111">Brightness Temperature [K]</text>
<rect x="1205.10" y="953.20" width="200.40" height="12.40" fill="url(#gJETR)" stroke="#333" stroke-width="0.6"/>
<line x1="1205.10" y1="965.60" x2="1205.10" y2="967.60" stroke="#333" stroke-width="0.6"/>
<text x="1205.1" y="975.7" font-size="6.7" text-anchor="middle" fill="#222">160</text>
<line x1="1238.50" y1="965.60" x2="1238.50" y2="967.60" stroke="#333" stroke-width="0.6"/>
<text x="1238.5" y="975.7" font-size="6.7" text-anchor="middle" fill="#222">180</text>
<line x1="1271.90" y1="965.60" x2="1271.90" y2="967.60" stroke="#333" stroke-width="0.6"/>
<text x="1271.9" y="975.7" font-size="6.7" text-anchor="middle" fill="#222">200</text>
<line x1="1305.30" y1="965.60" x2="1305.30" y2="967.60" stroke="#333" stroke-width="0.6"/>
<text x="1305.3" y="975.7" font-size="6.7" text-anchor="middle" fill="#222">220</text>
<line x1="1338.70" y1="965.60" x2="1338.70" y2="967.60" stroke="#333" stroke-width="0.6"/>
<text x="1338.7" y="975.7" font-size="6.7" text-anchor="middle" fill="#222">240</text>
<line x1="1372.10" y1="965.60" x2="1372.10" y2="967.60" stroke="#333" stroke-width="0.6"/>
<text x="1372.1" y="975.7" font-size="6.7" text-anchor="middle" fill="#222">260</text>
<line x1="1405.50" y1="965.60" x2="1405.50" y2="967.60" stroke="#333" stroke-width="0.6"/>
<text x="1405.5" y="975.7" font-size="6.7" text-anchor="middle" fill="#222">280</text>
<text x="1542.3" y="949.5" font-size="9.7" text-anchor="middle" fill="#111">SHAP Values</text>
<rect x="1442.70" y="953.20" width="199.90" height="12.40" fill="url(#gSEIS)" stroke="#333" stroke-width="0.6"/>
<line x1="1482.00" y1="965.60" x2="1482.00" y2="968.60" stroke="#222" stroke-width="0.8"/>
<text x="1478.1" y="978.4" font-size="9.4" text-anchor="middle" fill="#111">−0.05</text>
<line x1="1542.30" y1="965.60" x2="1542.30" y2="968.60" stroke="#222" stroke-width="0.8"/>
<text x="1542.3" y="978.4" font-size="9.4" text-anchor="middle" fill="#111">0.00</text>
<line x1="1606.90" y1="965.60" x2="1606.90" y2="968.60" stroke="#222" stroke-width="0.8"/>
<text x="1606.9" y="978.4" font-size="9.4" text-anchor="middle" fill="#111">0.05</text>
</svg></body></html>
